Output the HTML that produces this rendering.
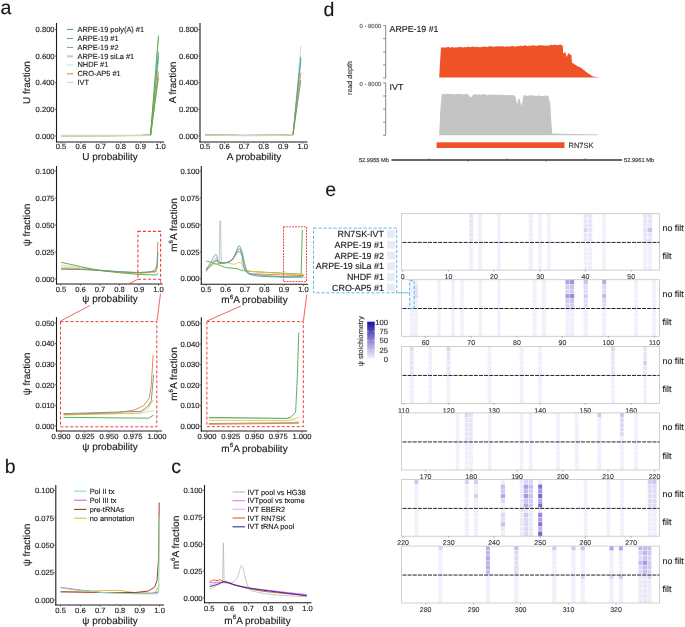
<!DOCTYPE html>
<html><head><meta charset="utf-8"><style>
html,body{margin:0;padding:0;background:#fff;}
body{width:685px;height:627px;overflow:hidden;}
svg{display:block;font-family:"Liberation Sans", sans-serif;text-rendering:geometricPrecision;will-change:transform;}
</style></head><body>
<svg width="685" height="627" viewBox="0 0 685 627">
<rect width="685" height="627" fill="#fff"/>
<text x="0.50" y="13.60" font-size="19.5" text-anchor="start" fill="#1a1a1a" stroke="#1a1a1a" stroke-width="0.14">a</text>
<text x="4.80" y="472.80" font-size="19.5" text-anchor="start" fill="#1a1a1a" stroke="#1a1a1a" stroke-width="0.14">b</text>
<text x="171.30" y="473.20" font-size="19.5" text-anchor="start" fill="#1a1a1a" stroke="#1a1a1a" stroke-width="0.14">c</text>
<text x="323.50" y="15.70" font-size="19.5" text-anchor="start" fill="#1a1a1a" stroke="#1a1a1a" stroke-width="0.14">d</text>
<text x="325.30" y="195.80" font-size="19.5" text-anchor="start" fill="#1a1a1a" stroke="#1a1a1a" stroke-width="0.14">e</text>
<line x1="56.50" y1="23.00" x2="56.50" y2="142.50" stroke="#1a1a1a" stroke-width="1.1"/>
<line x1="56.00" y1="142.00" x2="164.00" y2="142.00" stroke="#1a1a1a" stroke-width="1.1"/>
<line x1="54.90" y1="29.50" x2="56.50" y2="29.50" stroke="#555" stroke-width="0.9"/>
<text x="54.60" y="32.24" font-size="7.6" text-anchor="end" fill="#1a1a1a" stroke="#1a1a1a" stroke-width="0.14">0.800</text>
<line x1="54.90" y1="56.12" x2="56.50" y2="56.12" stroke="#555" stroke-width="0.9"/>
<text x="54.60" y="58.86" font-size="7.6" text-anchor="end" fill="#1a1a1a" stroke="#1a1a1a" stroke-width="0.14">0.600</text>
<line x1="54.90" y1="82.75" x2="56.50" y2="82.75" stroke="#555" stroke-width="0.9"/>
<text x="54.60" y="85.49" font-size="7.6" text-anchor="end" fill="#1a1a1a" stroke="#1a1a1a" stroke-width="0.14">0.400</text>
<line x1="54.90" y1="109.38" x2="56.50" y2="109.38" stroke="#555" stroke-width="0.9"/>
<text x="54.60" y="112.11" font-size="7.6" text-anchor="end" fill="#1a1a1a" stroke="#1a1a1a" stroke-width="0.14">0.200</text>
<line x1="54.90" y1="136.00" x2="56.50" y2="136.00" stroke="#555" stroke-width="0.9"/>
<text x="54.60" y="138.74" font-size="7.6" text-anchor="end" fill="#1a1a1a" stroke="#1a1a1a" stroke-width="0.14">0.000</text>
<line x1="61.00" y1="142.00" x2="61.00" y2="143.60" stroke="#555" stroke-width="0.9"/>
<text x="61.00" y="149.24" font-size="7.6" text-anchor="middle" fill="#1a1a1a" stroke="#1a1a1a" stroke-width="0.14">0.5</text>
<line x1="80.90" y1="142.00" x2="80.90" y2="143.60" stroke="#555" stroke-width="0.9"/>
<text x="80.90" y="149.24" font-size="7.6" text-anchor="middle" fill="#1a1a1a" stroke="#1a1a1a" stroke-width="0.14">0.6</text>
<line x1="100.80" y1="142.00" x2="100.80" y2="143.60" stroke="#555" stroke-width="0.9"/>
<text x="100.80" y="149.24" font-size="7.6" text-anchor="middle" fill="#1a1a1a" stroke="#1a1a1a" stroke-width="0.14">0.7</text>
<line x1="120.70" y1="142.00" x2="120.70" y2="143.60" stroke="#555" stroke-width="0.9"/>
<text x="120.70" y="149.24" font-size="7.6" text-anchor="middle" fill="#1a1a1a" stroke="#1a1a1a" stroke-width="0.14">0.8</text>
<line x1="140.60" y1="142.00" x2="140.60" y2="143.60" stroke="#555" stroke-width="0.9"/>
<text x="140.60" y="149.24" font-size="7.6" text-anchor="middle" fill="#1a1a1a" stroke="#1a1a1a" stroke-width="0.14">0.9</text>
<line x1="160.50" y1="142.00" x2="160.50" y2="143.60" stroke="#555" stroke-width="0.9"/>
<text x="160.50" y="149.24" font-size="7.6" text-anchor="middle" fill="#1a1a1a" stroke="#1a1a1a" stroke-width="0.14">1.0</text>
<text x="110.00" y="160.10" font-size="10" text-anchor="middle" fill="#1a1a1a" stroke="#1a1a1a" stroke-width="0.14">U probability</text>
<text x="26.50" y="86.10" font-size="10" text-anchor="middle" fill="#1a1a1a" transform="rotate(-90 26.50 82.50)" stroke="#1a1a1a" stroke-width="0.14">U fraction</text>
<polyline points="61.00,135.60 100.80,135.60 140.60,135.47 150.55,135.20 158.51,74.76" fill="none" stroke="#cfcfcf" stroke-width="0.85" stroke-linejoin="round" stroke-opacity="1.0"/>
<polyline points="61.00,135.60 100.80,135.60 140.60,135.47 150.55,135.20 158.51,53.46" fill="none" stroke="#a6eeee" stroke-width="0.85" stroke-linejoin="round" stroke-opacity="1.0"/>
<polyline points="61.00,135.60 100.80,135.60 140.60,135.47 150.55,135.20 158.51,60.12" fill="none" stroke="#a9d2d0" stroke-width="0.85" stroke-linejoin="round" stroke-opacity="1.0"/>
<polyline points="61.00,135.60 100.80,135.60 140.60,135.47 150.55,135.20 158.51,56.12" fill="none" stroke="#62aea6" stroke-width="0.85" stroke-linejoin="round" stroke-opacity="1.0"/>
<polyline points="61.00,135.60 100.80,135.60 140.60,135.47 150.55,135.20 158.51,52.13" fill="none" stroke="#4f9f98" stroke-width="0.85" stroke-linejoin="round" stroke-opacity="1.0"/>
<polyline points="61.00,135.60 100.80,135.60 140.60,135.47 150.55,135.20 158.51,71.43" fill="none" stroke="#ee7b36" stroke-width="0.85" stroke-linejoin="round" stroke-opacity="1.0"/>
<polyline points="61.00,135.60 100.80,135.60 140.60,135.47 150.55,135.20 158.51,77.43" fill="none" stroke="#4aa84a" stroke-width="0.85" stroke-linejoin="round" stroke-opacity="1.0"/>
<polyline points="61.00,135.60 100.80,135.60 140.60,135.47 150.55,135.20 158.51,36.82" fill="none" stroke="#a8c040" stroke-width="0.85" stroke-linejoin="round" stroke-opacity="1.0"/>
<polyline points="61.00,135.60 100.80,135.60 140.60,135.47 150.55,135.20 158.51,35.49" fill="none" stroke="#4aa84a" stroke-width="0.85" stroke-linejoin="round" stroke-opacity="1.0"/>
<polyline points="61.00,135.60 100.80,135.60 140.60,135.47 150.55,135.20" fill="none" stroke="#d6d6c2" stroke-width="1.6" stroke-linejoin="round" stroke-opacity="1.0"/>
<line x1="67.00" y1="29.45" x2="73.20" y2="29.45" stroke="#4aa84a" stroke-width="1.0"/>
<text x="77.50" y="31.66" font-size="7.4" text-anchor="start" fill="#1a1a1a" stroke="#1a1a1a" stroke-width="0.14">ARPE-19 poly(A) #1</text>
<line x1="67.00" y1="38.45" x2="73.20" y2="38.45" stroke="#4f9f98" stroke-width="1.0"/>
<text x="77.50" y="40.66" font-size="7.4" text-anchor="start" fill="#1a1a1a" stroke="#1a1a1a" stroke-width="0.14">ARPE-19 #1</text>
<line x1="67.00" y1="47.45" x2="73.20" y2="47.45" stroke="#62aea6" stroke-width="1.0"/>
<text x="77.50" y="49.66" font-size="7.4" text-anchor="start" fill="#1a1a1a" stroke="#1a1a1a" stroke-width="0.14">ARPE-19 #2</text>
<line x1="67.00" y1="56.35" x2="73.20" y2="56.35" stroke="#a9d2d0" stroke-width="2.0"/>
<text x="77.50" y="58.56" font-size="7.4" text-anchor="start" fill="#1a1a1a" stroke="#1a1a1a" stroke-width="0.14">ARPE-19 siLa #1</text>
<line x1="67.00" y1="65.05" x2="73.20" y2="65.05" stroke="#a6eeee" stroke-width="1.0"/>
<text x="77.50" y="67.26" font-size="7.4" text-anchor="start" fill="#1a1a1a" stroke="#1a1a1a" stroke-width="0.14">NHDF #1</text>
<line x1="67.00" y1="73.85" x2="73.20" y2="73.85" stroke="#ee7b36" stroke-width="1.0"/>
<text x="77.50" y="76.06" font-size="7.4" text-anchor="start" fill="#1a1a1a" stroke="#1a1a1a" stroke-width="0.14">CRO-AP5 #1</text>
<line x1="67.00" y1="82.35" x2="73.20" y2="82.35" stroke="#cfcfcf" stroke-width="1.0"/>
<text x="77.50" y="84.56" font-size="7.4" text-anchor="start" fill="#1a1a1a" stroke="#1a1a1a" stroke-width="0.14">IVT</text>
<line x1="200.00" y1="23.00" x2="200.00" y2="142.50" stroke="#1a1a1a" stroke-width="1.1"/>
<line x1="199.50" y1="142.00" x2="307.50" y2="142.00" stroke="#1a1a1a" stroke-width="1.1"/>
<line x1="198.40" y1="29.50" x2="200.00" y2="29.50" stroke="#555" stroke-width="0.9"/>
<text x="198.10" y="32.24" font-size="7.6" text-anchor="end" fill="#1a1a1a" stroke="#1a1a1a" stroke-width="0.14">0.800</text>
<line x1="198.40" y1="56.12" x2="200.00" y2="56.12" stroke="#555" stroke-width="0.9"/>
<text x="198.10" y="58.86" font-size="7.6" text-anchor="end" fill="#1a1a1a" stroke="#1a1a1a" stroke-width="0.14">0.600</text>
<line x1="198.40" y1="82.75" x2="200.00" y2="82.75" stroke="#555" stroke-width="0.9"/>
<text x="198.10" y="85.49" font-size="7.6" text-anchor="end" fill="#1a1a1a" stroke="#1a1a1a" stroke-width="0.14">0.400</text>
<line x1="198.40" y1="109.38" x2="200.00" y2="109.38" stroke="#555" stroke-width="0.9"/>
<text x="198.10" y="112.11" font-size="7.6" text-anchor="end" fill="#1a1a1a" stroke="#1a1a1a" stroke-width="0.14">0.200</text>
<line x1="198.40" y1="136.00" x2="200.00" y2="136.00" stroke="#555" stroke-width="0.9"/>
<text x="198.10" y="138.74" font-size="7.6" text-anchor="end" fill="#1a1a1a" stroke="#1a1a1a" stroke-width="0.14">0.000</text>
<line x1="205.00" y1="142.00" x2="205.00" y2="143.60" stroke="#555" stroke-width="0.9"/>
<text x="205.00" y="149.24" font-size="7.6" text-anchor="middle" fill="#1a1a1a" stroke="#1a1a1a" stroke-width="0.14">0.5</text>
<line x1="224.56" y1="142.00" x2="224.56" y2="143.60" stroke="#555" stroke-width="0.9"/>
<text x="224.56" y="149.24" font-size="7.6" text-anchor="middle" fill="#1a1a1a" stroke="#1a1a1a" stroke-width="0.14">0.6</text>
<line x1="244.12" y1="142.00" x2="244.12" y2="143.60" stroke="#555" stroke-width="0.9"/>
<text x="244.12" y="149.24" font-size="7.6" text-anchor="middle" fill="#1a1a1a" stroke="#1a1a1a" stroke-width="0.14">0.7</text>
<line x1="263.68" y1="142.00" x2="263.68" y2="143.60" stroke="#555" stroke-width="0.9"/>
<text x="263.68" y="149.24" font-size="7.6" text-anchor="middle" fill="#1a1a1a" stroke="#1a1a1a" stroke-width="0.14">0.8</text>
<line x1="283.24" y1="142.00" x2="283.24" y2="143.60" stroke="#555" stroke-width="0.9"/>
<text x="283.24" y="149.24" font-size="7.6" text-anchor="middle" fill="#1a1a1a" stroke="#1a1a1a" stroke-width="0.14">0.9</text>
<line x1="302.80" y1="142.00" x2="302.80" y2="143.60" stroke="#555" stroke-width="0.9"/>
<text x="302.80" y="149.24" font-size="7.6" text-anchor="middle" fill="#1a1a1a" stroke="#1a1a1a" stroke-width="0.14">1.0</text>
<text x="254.00" y="160.10" font-size="10" text-anchor="middle" fill="#1a1a1a" stroke="#1a1a1a" stroke-width="0.14">A probability</text>
<text x="172.50" y="86.10" font-size="10" text-anchor="middle" fill="#1a1a1a" transform="rotate(-90 172.50 82.50)" stroke="#1a1a1a" stroke-width="0.14">A fraction</text>
<polyline points="205.00,134.94 244.12,135.47 283.24,135.20 293.02,134.67 300.84,46.14" fill="none" stroke="#cfcfcf" stroke-width="0.85" stroke-linejoin="round" stroke-opacity="1.0"/>
<polyline points="205.00,134.94 244.12,135.47 283.24,135.20 293.02,134.67 300.84,56.12" fill="none" stroke="#a6eeee" stroke-width="0.85" stroke-linejoin="round" stroke-opacity="1.0"/>
<polyline points="205.00,134.94 244.12,135.47 283.24,135.20 293.02,134.67 300.84,61.45" fill="none" stroke="#a9d2d0" stroke-width="0.85" stroke-linejoin="round" stroke-opacity="1.0"/>
<polyline points="205.00,134.94 244.12,135.47 283.24,135.20 293.02,134.67 300.84,58.79" fill="none" stroke="#62aea6" stroke-width="0.85" stroke-linejoin="round" stroke-opacity="1.0"/>
<polyline points="205.00,134.94 244.12,135.47 283.24,135.20 293.02,134.67 300.84,56.79" fill="none" stroke="#4f9f98" stroke-width="0.85" stroke-linejoin="round" stroke-opacity="1.0"/>
<polyline points="205.00,134.94 244.12,135.47 283.24,135.20 293.02,134.67 300.84,72.77" fill="none" stroke="#ee7b36" stroke-width="0.85" stroke-linejoin="round" stroke-opacity="1.0"/>
<polyline points="205.00,134.94 244.12,135.47 283.24,135.20 293.02,134.67 300.84,80.09" fill="none" stroke="#4aa84a" stroke-width="0.85" stroke-linejoin="round" stroke-opacity="1.0"/>
<polyline points="205.00,134.94 244.12,135.47 283.24,135.20 293.02,134.67" fill="none" stroke="#d2d6c4" stroke-width="1.6" stroke-linejoin="round" stroke-opacity="1.0"/>
<line x1="56.50" y1="166.00" x2="56.50" y2="284.50" stroke="#1a1a1a" stroke-width="1.1"/>
<line x1="56.00" y1="284.00" x2="162.60" y2="284.00" stroke="#1a1a1a" stroke-width="1.1"/>
<line x1="54.90" y1="171.00" x2="56.50" y2="171.00" stroke="#555" stroke-width="0.9"/>
<text x="54.60" y="173.74" font-size="7.6" text-anchor="end" fill="#1a1a1a" stroke="#1a1a1a" stroke-width="0.14">0.100</text>
<line x1="54.90" y1="198.00" x2="56.50" y2="198.00" stroke="#555" stroke-width="0.9"/>
<text x="54.60" y="200.74" font-size="7.6" text-anchor="end" fill="#1a1a1a" stroke="#1a1a1a" stroke-width="0.14">0.075</text>
<line x1="54.90" y1="225.00" x2="56.50" y2="225.00" stroke="#555" stroke-width="0.9"/>
<text x="54.60" y="227.74" font-size="7.6" text-anchor="end" fill="#1a1a1a" stroke="#1a1a1a" stroke-width="0.14">0.050</text>
<line x1="54.90" y1="252.00" x2="56.50" y2="252.00" stroke="#555" stroke-width="0.9"/>
<text x="54.60" y="254.74" font-size="7.6" text-anchor="end" fill="#1a1a1a" stroke="#1a1a1a" stroke-width="0.14">0.025</text>
<line x1="54.90" y1="279.00" x2="56.50" y2="279.00" stroke="#555" stroke-width="0.9"/>
<text x="54.60" y="281.74" font-size="7.6" text-anchor="end" fill="#1a1a1a" stroke="#1a1a1a" stroke-width="0.14">0.000</text>
<line x1="61.00" y1="284.00" x2="61.00" y2="285.60" stroke="#555" stroke-width="0.9"/>
<text x="61.00" y="291.74" font-size="7.6" text-anchor="middle" fill="#1a1a1a" stroke="#1a1a1a" stroke-width="0.14">0.5</text>
<line x1="80.50" y1="284.00" x2="80.50" y2="285.60" stroke="#555" stroke-width="0.9"/>
<text x="80.50" y="291.74" font-size="7.6" text-anchor="middle" fill="#1a1a1a" stroke="#1a1a1a" stroke-width="0.14">0.6</text>
<line x1="100.00" y1="284.00" x2="100.00" y2="285.60" stroke="#555" stroke-width="0.9"/>
<text x="100.00" y="291.74" font-size="7.6" text-anchor="middle" fill="#1a1a1a" stroke="#1a1a1a" stroke-width="0.14">0.7</text>
<line x1="119.50" y1="284.00" x2="119.50" y2="285.60" stroke="#555" stroke-width="0.9"/>
<text x="119.50" y="291.74" font-size="7.6" text-anchor="middle" fill="#1a1a1a" stroke="#1a1a1a" stroke-width="0.14">0.8</text>
<line x1="139.00" y1="284.00" x2="139.00" y2="285.60" stroke="#555" stroke-width="0.9"/>
<text x="139.00" y="291.74" font-size="7.6" text-anchor="middle" fill="#1a1a1a" stroke="#1a1a1a" stroke-width="0.14">0.9</text>
<line x1="158.50" y1="284.00" x2="158.50" y2="285.60" stroke="#555" stroke-width="0.9"/>
<text x="158.50" y="291.74" font-size="7.6" text-anchor="middle" fill="#1a1a1a" stroke="#1a1a1a" stroke-width="0.14">1.0</text>
<text x="110.00" y="302.10" font-size="10" text-anchor="middle" fill="#1a1a1a" stroke="#1a1a1a" stroke-width="0.14">ψ probability</text>
<text x="26.50" y="228.60" font-size="10" text-anchor="middle" fill="#1a1a1a" transform="rotate(-90 26.50 225.00)" stroke="#1a1a1a" stroke-width="0.14">ψ fraction</text>
<polyline points="61.00,264.96 80.50,267.66 100.00,270.14 119.50,271.66 139.53,272.95 154.99,272.41 157.82,270.90" fill="none" stroke="#cfcfcf" stroke-width="0.9" stroke-linejoin="round" stroke-opacity="1.0"/>
<polyline points="61.00,267.12 80.50,268.74 100.00,270.36 119.50,272.09 139.53,273.28 154.99,272.20 156.55,270.04 157.72,265.39" fill="none" stroke="#f0c23a" stroke-width="0.9" stroke-linejoin="round" stroke-opacity="1.0"/>
<polyline points="61.00,262.26 80.50,266.58 100.00,270.58 119.50,272.74 139.53,274.46 156.80,274.90 157.80,273.28" fill="none" stroke="#4aa84a" stroke-width="0.9" stroke-linejoin="round" stroke-opacity="1.0"/>
<polyline points="61.00,268.74 80.50,269.06 100.00,270.36 119.50,271.87 139.53,272.95 150.31,272.09 154.01,270.58 155.87,268.20 156.94,264.20 157.33,257.72 157.72,241.85" fill="none" stroke="#ee7b36" stroke-width="0.9" stroke-linejoin="round" stroke-opacity="1.0"/>
<polyline points="61.00,269.28 80.50,269.50 100.00,270.36 119.50,271.66 139.53,272.52 155.24,271.33 156.80,268.20 157.33,265.72 157.82,252.22" fill="none" stroke="#4f9f98" stroke-width="0.9" stroke-linejoin="round" stroke-opacity="1.0"/>
<rect x="137.90" y="231.40" width="22.70" height="47.80" fill="none" stroke="#f23b3b" stroke-width="1.1" stroke-dasharray="3.0,2.0"/>
<line x1="201.30" y1="166.00" x2="201.30" y2="284.80" stroke="#1a1a1a" stroke-width="1.1"/>
<line x1="200.80" y1="284.30" x2="308.00" y2="284.30" stroke="#1a1a1a" stroke-width="1.1"/>
<line x1="199.70" y1="171.10" x2="201.30" y2="171.10" stroke="#555" stroke-width="0.9"/>
<text x="199.40" y="173.84" font-size="7.6" text-anchor="end" fill="#1a1a1a" stroke="#1a1a1a" stroke-width="0.14">0.100</text>
<line x1="199.70" y1="198.00" x2="201.30" y2="198.00" stroke="#555" stroke-width="0.9"/>
<text x="199.40" y="200.74" font-size="7.6" text-anchor="end" fill="#1a1a1a" stroke="#1a1a1a" stroke-width="0.14">0.075</text>
<line x1="199.70" y1="224.90" x2="201.30" y2="224.90" stroke="#555" stroke-width="0.9"/>
<text x="199.40" y="227.64" font-size="7.6" text-anchor="end" fill="#1a1a1a" stroke="#1a1a1a" stroke-width="0.14">0.050</text>
<line x1="199.70" y1="251.80" x2="201.30" y2="251.80" stroke="#555" stroke-width="0.9"/>
<text x="199.40" y="254.54" font-size="7.6" text-anchor="end" fill="#1a1a1a" stroke="#1a1a1a" stroke-width="0.14">0.025</text>
<line x1="199.70" y1="278.70" x2="201.30" y2="278.70" stroke="#555" stroke-width="0.9"/>
<text x="199.40" y="281.44" font-size="7.6" text-anchor="end" fill="#1a1a1a" stroke="#1a1a1a" stroke-width="0.14">0.000</text>
<line x1="206.10" y1="284.30" x2="206.10" y2="285.90" stroke="#555" stroke-width="0.9"/>
<text x="206.10" y="291.74" font-size="7.6" text-anchor="middle" fill="#1a1a1a" stroke="#1a1a1a" stroke-width="0.14">0.5</text>
<line x1="225.58" y1="284.30" x2="225.58" y2="285.90" stroke="#555" stroke-width="0.9"/>
<text x="225.58" y="291.74" font-size="7.6" text-anchor="middle" fill="#1a1a1a" stroke="#1a1a1a" stroke-width="0.14">0.6</text>
<line x1="245.06" y1="284.30" x2="245.06" y2="285.90" stroke="#555" stroke-width="0.9"/>
<text x="245.06" y="291.74" font-size="7.6" text-anchor="middle" fill="#1a1a1a" stroke="#1a1a1a" stroke-width="0.14">0.7</text>
<line x1="264.54" y1="284.30" x2="264.54" y2="285.90" stroke="#555" stroke-width="0.9"/>
<text x="264.54" y="291.74" font-size="7.6" text-anchor="middle" fill="#1a1a1a" stroke="#1a1a1a" stroke-width="0.14">0.8</text>
<line x1="284.02" y1="284.30" x2="284.02" y2="285.90" stroke="#555" stroke-width="0.9"/>
<text x="284.02" y="291.74" font-size="7.6" text-anchor="middle" fill="#1a1a1a" stroke="#1a1a1a" stroke-width="0.14">0.9</text>
<line x1="303.50" y1="284.30" x2="303.50" y2="285.90" stroke="#555" stroke-width="0.9"/>
<text x="303.50" y="291.74" font-size="7.6" text-anchor="middle" fill="#1a1a1a" stroke="#1a1a1a" stroke-width="0.14">1.0</text>
<text x="254.50" y="303.10" font-size="10" text-anchor="middle" fill="#1a1a1a" stroke="#1a1a1a" stroke-width="0.14">m<tspan font-size="6.20" dy="-4.20">6</tspan><tspan dy="4.20">A probability</tspan></text>
<text x="173.40" y="228.60" font-size="10" text-anchor="middle" fill="#1a1a1a" stroke="#1a1a1a" stroke-width="0.14" transform="rotate(-90 173.40 225.00)">m<tspan font-size="6.20" dy="-4.20">6</tspan><tspan dy="4.20">A fraction</tspan></text>
<path d="M206.00,261.00 C207.50,261.42 211.72,262.43 215.00,263.50 C218.28,264.57 222.58,266.60 225.70,267.40 C228.82,268.20 231.65,268.03 233.70,268.30 C235.75,268.57 236.38,268.60 238.00,269.00 C239.62,269.40 239.73,270.20 243.40,270.70 C247.07,271.20 253.90,271.62 260.00,272.00 C266.10,272.38 273.13,272.63 280.00,273.00 C286.87,273.37 297.67,274.00 301.20,274.20" fill="none" stroke="#4aa84a" stroke-width="0.9" stroke-linejoin="round" stroke-opacity="1.0"/>
<polyline points="301.20,274.20 302.30,229.70" fill="none" stroke="#4aa84a" stroke-width="0.9" stroke-linejoin="round" stroke-opacity="1.0"/>
<path d="M206.00,270.70 C206.83,269.92 209.33,267.08 211.00,266.00 C212.67,264.92 213.67,264.77 216.00,264.20 C218.33,263.63 222.00,262.60 225.00,262.60 C228.00,262.60 231.67,264.25 234.00,264.20 C236.33,264.15 237.50,262.17 239.00,262.30 C240.50,262.43 241.50,263.60 243.00,265.00 C244.50,266.40 245.17,269.53 248.00,270.70 C250.83,271.87 251.33,271.33 260.00,272.00 C268.67,272.67 292.92,274.37 300.00,274.70 C307.08,275.03 302.08,274.12 302.50,274.00" fill="none" stroke="#f0c23a" stroke-width="0.9" stroke-linejoin="round" stroke-opacity="1.0"/>
<path d="M206.00,270.00 C206.83,269.00 209.33,266.00 211.00,264.00 C212.67,262.00 214.58,258.33 216.00,258.00 C217.42,257.67 217.88,261.23 219.50,262.00 C221.12,262.77 223.62,262.93 225.70,262.60 C227.78,262.27 229.80,262.60 232.00,260.00 C234.20,257.40 237.23,248.17 238.90,247.00 C240.57,245.83 240.48,248.67 242.00,253.00 C243.52,257.33 238.33,268.92 248.00,273.00 C257.67,277.08 290.92,276.83 300.00,277.50 C309.08,278.17 302.08,277.08 302.50,277.00" fill="none" stroke="#cfcfcf" stroke-width="0.9" stroke-linejoin="round" stroke-opacity="1.0"/>
<path d="M206.00,271.50 C206.83,270.42 209.33,266.75 211.00,265.00 C212.67,263.25 214.50,261.40 216.00,261.00 C217.50,260.60 218.38,262.33 220.00,262.60 C221.62,262.87 223.70,263.00 225.70,262.60 C227.70,262.20 230.45,261.30 232.00,260.20 C233.55,259.10 233.83,257.47 235.00,256.00 C236.17,254.53 237.67,251.07 239.00,251.40 C240.33,251.73 241.50,254.52 243.00,258.00 C244.50,261.48 245.17,269.63 248.00,272.30 C250.83,274.97 251.33,273.47 260.00,274.00 C268.67,274.53 292.92,275.33 300.00,275.50 C307.08,275.67 302.08,275.08 302.50,275.00" fill="none" stroke="#ee7b36" stroke-width="0.9" stroke-linejoin="round" stroke-opacity="1.0"/>
<path d="M206.00,269.00 C206.83,267.83 209.33,264.45 211.00,262.00 C212.67,259.55 214.75,254.07 216.00,254.30 C217.25,254.53 217.50,262.02 218.50,263.40 C219.50,264.78 220.80,262.73 222.00,262.60 C223.20,262.47 224.53,262.78 225.70,262.60 C226.87,262.42 227.95,262.03 229.00,261.50 C230.05,260.97 231.00,260.48 232.00,259.40 C233.00,258.32 233.85,257.27 235.00,255.00 C236.15,252.73 237.73,246.30 238.90,245.80 C240.07,245.30 240.98,248.80 242.00,252.00 C243.02,255.20 243.97,261.50 245.00,265.00 C246.03,268.50 245.70,271.33 248.20,273.00 C250.70,274.67 254.70,274.42 260.00,275.00 C265.30,275.58 273.33,276.17 280.00,276.50 C286.67,276.83 296.25,277.08 300.00,277.00 C303.75,276.92 302.08,276.17 302.50,276.00" fill="none" stroke="#62aea6" stroke-width="0.9" stroke-linejoin="round" stroke-opacity="1.0"/>
<path d="M206.00,270.00 C206.83,269.17 209.33,266.67 211.00,265.00 C212.67,263.33 214.50,260.33 216.00,260.00 C217.50,259.67 218.38,262.50 220.00,263.00 C221.62,263.50 223.70,263.50 225.70,263.00 C227.70,262.50 229.80,262.33 232.00,260.00 C234.20,257.67 237.23,249.83 238.90,249.00 C240.57,248.17 240.45,250.92 242.00,255.00 C243.55,259.08 241.87,269.83 248.20,273.50 C254.53,277.17 270.95,276.50 280.00,277.00 C289.05,277.50 298.75,276.58 302.50,276.50" fill="none" stroke="#4f9f98" stroke-width="0.9" stroke-linejoin="round" stroke-opacity="1.0"/>
<polyline points="219.30,262.00 219.90,221.00 220.60,221.00 221.20,262.00" fill="none" stroke="#a9bcbc" stroke-width="0.8" stroke-linejoin="round" stroke-opacity="1.0"/>
<rect x="283.50" y="226.80" width="23.00" height="54.80" fill="none" stroke="#f23b3b" stroke-width="1" stroke-dasharray="1.8,1.1"/>
<line x1="56.50" y1="317.20" x2="56.50" y2="431.50" stroke="#1a1a1a" stroke-width="1.1"/>
<line x1="56.00" y1="431.00" x2="162.00" y2="431.00" stroke="#1a1a1a" stroke-width="1.1"/>
<line x1="54.90" y1="323.00" x2="56.50" y2="323.00" stroke="#555" stroke-width="0.9"/>
<text x="54.60" y="325.74" font-size="7.6" text-anchor="end" fill="#1a1a1a" stroke="#1a1a1a" stroke-width="0.14">0.050</text>
<line x1="54.90" y1="343.60" x2="56.50" y2="343.60" stroke="#555" stroke-width="0.9"/>
<text x="54.60" y="346.34" font-size="7.6" text-anchor="end" fill="#1a1a1a" stroke="#1a1a1a" stroke-width="0.14">0.040</text>
<line x1="54.90" y1="364.20" x2="56.50" y2="364.20" stroke="#555" stroke-width="0.9"/>
<text x="54.60" y="366.94" font-size="7.6" text-anchor="end" fill="#1a1a1a" stroke="#1a1a1a" stroke-width="0.14">0.030</text>
<line x1="54.90" y1="384.80" x2="56.50" y2="384.80" stroke="#555" stroke-width="0.9"/>
<text x="54.60" y="387.54" font-size="7.6" text-anchor="end" fill="#1a1a1a" stroke="#1a1a1a" stroke-width="0.14">0.020</text>
<line x1="54.90" y1="405.40" x2="56.50" y2="405.40" stroke="#555" stroke-width="0.9"/>
<text x="54.60" y="408.14" font-size="7.6" text-anchor="end" fill="#1a1a1a" stroke="#1a1a1a" stroke-width="0.14">0.010</text>
<line x1="54.90" y1="426.00" x2="56.50" y2="426.00" stroke="#555" stroke-width="0.9"/>
<text x="54.60" y="428.74" font-size="7.6" text-anchor="end" fill="#1a1a1a" stroke="#1a1a1a" stroke-width="0.14">0.000</text>
<line x1="61.00" y1="431.00" x2="61.00" y2="432.60" stroke="#555" stroke-width="0.9"/>
<text x="61.00" y="438.94" font-size="7.6" text-anchor="middle" fill="#1a1a1a" stroke="#1a1a1a" stroke-width="0.14">0.900</text>
<line x1="85.00" y1="431.00" x2="85.00" y2="432.60" stroke="#555" stroke-width="0.9"/>
<text x="85.00" y="438.94" font-size="7.6" text-anchor="middle" fill="#1a1a1a" stroke="#1a1a1a" stroke-width="0.14">0.925</text>
<line x1="109.00" y1="431.00" x2="109.00" y2="432.60" stroke="#555" stroke-width="0.9"/>
<text x="109.00" y="438.94" font-size="7.6" text-anchor="middle" fill="#1a1a1a" stroke="#1a1a1a" stroke-width="0.14">0.950</text>
<line x1="133.00" y1="431.00" x2="133.00" y2="432.60" stroke="#555" stroke-width="0.9"/>
<text x="133.00" y="438.94" font-size="7.6" text-anchor="middle" fill="#1a1a1a" stroke="#1a1a1a" stroke-width="0.14">0.975</text>
<line x1="157.00" y1="431.00" x2="157.00" y2="432.60" stroke="#555" stroke-width="0.9"/>
<text x="157.00" y="438.94" font-size="7.6" text-anchor="middle" fill="#1a1a1a" stroke="#1a1a1a" stroke-width="0.14">1.000</text>
<text x="110.00" y="449.80" font-size="10" text-anchor="middle" fill="#1a1a1a" stroke="#1a1a1a" stroke-width="0.14">ψ probability</text>
<text x="26.50" y="377.60" font-size="10" text-anchor="middle" fill="#1a1a1a" transform="rotate(-90 26.50 374.00)" stroke="#1a1a1a" stroke-width="0.14">ψ fraction</text>
<polyline points="63.59,414.46 139.72,413.43 153.64,410.55" fill="none" stroke="#cfcfcf" stroke-width="0.9" stroke-linejoin="round" stroke-opacity="1.0"/>
<polyline points="63.59,415.08 139.72,413.02 147.40,408.90 153.16,400.04" fill="none" stroke="#f0c23a" stroke-width="0.9" stroke-linejoin="round" stroke-opacity="1.0"/>
<polyline points="63.59,417.35 148.65,418.17 153.54,415.08" fill="none" stroke="#4aa84a" stroke-width="0.9" stroke-linejoin="round" stroke-opacity="1.0"/>
<polyline points="63.59,414.46 116.68,412.82 134.92,409.93 144.04,405.40 149.32,397.78 151.24,385.42 153.16,355.14" fill="none" stroke="#ee7b36" stroke-width="0.9" stroke-linejoin="round" stroke-opacity="1.0"/>
<polyline points="63.59,413.64 140.97,411.37 148.65,405.40 151.24,400.66 153.64,374.91" fill="none" stroke="#4f9f98" stroke-width="0.9" stroke-linejoin="round" stroke-opacity="1.0"/>
<rect x="60.50" y="321.60" width="96.30" height="105.20" fill="none" stroke="#f23b3b" stroke-width="1" stroke-dasharray="3.0,2.0"/>
<line x1="201.30" y1="317.20" x2="201.30" y2="431.50" stroke="#1a1a1a" stroke-width="1.1"/>
<line x1="200.80" y1="431.00" x2="307.00" y2="431.00" stroke="#1a1a1a" stroke-width="1.1"/>
<line x1="199.70" y1="323.45" x2="201.30" y2="323.45" stroke="#555" stroke-width="0.9"/>
<text x="199.40" y="326.19" font-size="7.6" text-anchor="end" fill="#1a1a1a" stroke="#1a1a1a" stroke-width="0.14">0.050</text>
<line x1="199.70" y1="344.00" x2="201.30" y2="344.00" stroke="#555" stroke-width="0.9"/>
<text x="199.40" y="346.74" font-size="7.6" text-anchor="end" fill="#1a1a1a" stroke="#1a1a1a" stroke-width="0.14">0.040</text>
<line x1="199.70" y1="364.55" x2="201.30" y2="364.55" stroke="#555" stroke-width="0.9"/>
<text x="199.40" y="367.29" font-size="7.6" text-anchor="end" fill="#1a1a1a" stroke="#1a1a1a" stroke-width="0.14">0.030</text>
<line x1="199.70" y1="385.10" x2="201.30" y2="385.10" stroke="#555" stroke-width="0.9"/>
<text x="199.40" y="387.84" font-size="7.6" text-anchor="end" fill="#1a1a1a" stroke="#1a1a1a" stroke-width="0.14">0.020</text>
<line x1="199.70" y1="405.65" x2="201.30" y2="405.65" stroke="#555" stroke-width="0.9"/>
<text x="199.40" y="408.39" font-size="7.6" text-anchor="end" fill="#1a1a1a" stroke="#1a1a1a" stroke-width="0.14">0.010</text>
<line x1="199.70" y1="426.20" x2="201.30" y2="426.20" stroke="#555" stroke-width="0.9"/>
<text x="199.40" y="428.94" font-size="7.6" text-anchor="end" fill="#1a1a1a" stroke="#1a1a1a" stroke-width="0.14">0.000</text>
<line x1="207.00" y1="431.00" x2="207.00" y2="432.60" stroke="#555" stroke-width="0.9"/>
<text x="207.00" y="438.94" font-size="7.6" text-anchor="middle" fill="#1a1a1a" stroke="#1a1a1a" stroke-width="0.14">0.900</text>
<line x1="230.75" y1="431.00" x2="230.75" y2="432.60" stroke="#555" stroke-width="0.9"/>
<text x="230.75" y="438.94" font-size="7.6" text-anchor="middle" fill="#1a1a1a" stroke="#1a1a1a" stroke-width="0.14">0.925</text>
<line x1="254.50" y1="431.00" x2="254.50" y2="432.60" stroke="#555" stroke-width="0.9"/>
<text x="254.50" y="438.94" font-size="7.6" text-anchor="middle" fill="#1a1a1a" stroke="#1a1a1a" stroke-width="0.14">0.950</text>
<line x1="278.25" y1="431.00" x2="278.25" y2="432.60" stroke="#555" stroke-width="0.9"/>
<text x="278.25" y="438.94" font-size="7.6" text-anchor="middle" fill="#1a1a1a" stroke="#1a1a1a" stroke-width="0.14">0.975</text>
<line x1="302.00" y1="431.00" x2="302.00" y2="432.60" stroke="#555" stroke-width="0.9"/>
<text x="302.00" y="438.94" font-size="7.6" text-anchor="middle" fill="#1a1a1a" stroke="#1a1a1a" stroke-width="0.14">1.000</text>
<text x="254.50" y="451.60" font-size="10" text-anchor="middle" fill="#1a1a1a" stroke="#1a1a1a" stroke-width="0.14">m<tspan font-size="6.20" dy="-4.20">6</tspan><tspan dy="4.20">A probability</tspan></text>
<text x="173.30" y="377.60" font-size="10" text-anchor="middle" fill="#1a1a1a" stroke="#1a1a1a" stroke-width="0.14" transform="rotate(-90 173.30 374.00)">m<tspan font-size="6.20" dy="-4.20">6</tspan><tspan dy="4.20">A fraction</tspan></text>
<polyline points="208.80,423.50 298.80,422.70" fill="none" stroke="#4f9f98" stroke-width="0.9" stroke-linejoin="round" stroke-opacity="1.0"/>
<polyline points="208.80,424.30 298.80,423.20" fill="none" stroke="#ee7b36" stroke-width="0.9" stroke-linejoin="round" stroke-opacity="1.0"/>
<polyline points="208.80,418.20 290.00,418.50 298.80,421.90" fill="none" stroke="#cfcfcf" stroke-width="0.9" stroke-linejoin="round" stroke-opacity="1.0"/>
<polyline points="208.80,420.30 290.00,420.60 298.80,417.10" fill="none" stroke="#f0c23a" stroke-width="0.9" stroke-linejoin="round" stroke-opacity="1.0"/>
<polyline points="208.80,417.40 286.70,418.40 290.70,417.10 295.60,412.30 297.20,380.10 298.80,332.50" fill="none" stroke="#4aa84a" stroke-width="0.9" stroke-linejoin="round" stroke-opacity="1.0"/>
<rect x="206.90" y="321.60" width="96.40" height="105.10" fill="none" stroke="#f23b3b" stroke-width="1" stroke-dasharray="3.0,2.0"/>
<line x1="137.90" y1="279.30" x2="128.80" y2="283.80" stroke="#f23b3b" stroke-width="0.8"/>
<line x1="90.00" y1="305.50" x2="60.50" y2="321.00" stroke="#f23b3b" stroke-width="0.8"/>
<line x1="160.60" y1="279.20" x2="160.60" y2="284.00" stroke="#f23b3b" stroke-width="0.8"/>
<line x1="160.50" y1="293.70" x2="157.00" y2="321.00" stroke="#f23b3b" stroke-width="0.8"/>
<line x1="241.00" y1="306.00" x2="207.00" y2="321.00" stroke="#f23b3b" stroke-width="0.8"/>
<line x1="306.80" y1="294.30" x2="303.40" y2="321.00" stroke="#f23b3b" stroke-width="0.8"/>
<line x1="55.80" y1="485.00" x2="55.80" y2="605.50" stroke="#1a1a1a" stroke-width="1.1"/>
<line x1="55.30" y1="605.00" x2="164.00" y2="605.00" stroke="#1a1a1a" stroke-width="1.1"/>
<line x1="54.20" y1="490.50" x2="55.80" y2="490.50" stroke="#555" stroke-width="0.9"/>
<text x="53.90" y="493.24" font-size="7.6" text-anchor="end" fill="#1a1a1a" stroke="#1a1a1a" stroke-width="0.14">0.100</text>
<line x1="54.20" y1="517.88" x2="55.80" y2="517.88" stroke="#555" stroke-width="0.9"/>
<text x="53.90" y="520.61" font-size="7.6" text-anchor="end" fill="#1a1a1a" stroke="#1a1a1a" stroke-width="0.14">0.075</text>
<line x1="54.20" y1="545.25" x2="55.80" y2="545.25" stroke="#555" stroke-width="0.9"/>
<text x="53.90" y="547.99" font-size="7.6" text-anchor="end" fill="#1a1a1a" stroke="#1a1a1a" stroke-width="0.14">0.050</text>
<line x1="54.20" y1="572.62" x2="55.80" y2="572.62" stroke="#555" stroke-width="0.9"/>
<text x="53.90" y="575.36" font-size="7.6" text-anchor="end" fill="#1a1a1a" stroke="#1a1a1a" stroke-width="0.14">0.025</text>
<line x1="54.20" y1="600.00" x2="55.80" y2="600.00" stroke="#555" stroke-width="0.9"/>
<text x="53.90" y="602.74" font-size="7.6" text-anchor="end" fill="#1a1a1a" stroke="#1a1a1a" stroke-width="0.14">0.000</text>
<line x1="60.60" y1="605.00" x2="60.60" y2="606.60" stroke="#555" stroke-width="0.9"/>
<text x="60.60" y="612.94" font-size="7.6" text-anchor="middle" fill="#1a1a1a" stroke="#1a1a1a" stroke-width="0.14">0.5</text>
<line x1="80.40" y1="605.00" x2="80.40" y2="606.60" stroke="#555" stroke-width="0.9"/>
<text x="80.40" y="612.94" font-size="7.6" text-anchor="middle" fill="#1a1a1a" stroke="#1a1a1a" stroke-width="0.14">0.6</text>
<line x1="100.20" y1="605.00" x2="100.20" y2="606.60" stroke="#555" stroke-width="0.9"/>
<text x="100.20" y="612.94" font-size="7.6" text-anchor="middle" fill="#1a1a1a" stroke="#1a1a1a" stroke-width="0.14">0.7</text>
<line x1="120.00" y1="605.00" x2="120.00" y2="606.60" stroke="#555" stroke-width="0.9"/>
<text x="120.00" y="612.94" font-size="7.6" text-anchor="middle" fill="#1a1a1a" stroke="#1a1a1a" stroke-width="0.14">0.8</text>
<line x1="139.80" y1="605.00" x2="139.80" y2="606.60" stroke="#555" stroke-width="0.9"/>
<text x="139.80" y="612.94" font-size="7.6" text-anchor="middle" fill="#1a1a1a" stroke="#1a1a1a" stroke-width="0.14">0.9</text>
<line x1="159.60" y1="605.00" x2="159.60" y2="606.60" stroke="#555" stroke-width="0.9"/>
<text x="159.60" y="612.94" font-size="7.6" text-anchor="middle" fill="#1a1a1a" stroke="#1a1a1a" stroke-width="0.14">1.0</text>
<text x="110.00" y="623.60" font-size="10" text-anchor="middle" fill="#1a1a1a" stroke="#1a1a1a" stroke-width="0.14">ψ probability</text>
<text x="26.50" y="548.60" font-size="10" text-anchor="middle" fill="#1a1a1a" transform="rotate(-90 26.50 545.00)" stroke="#1a1a1a" stroke-width="0.14">ψ fraction</text>
<polyline points="60.60,591.60 90.00,591.00 119.20,590.30 135.00,592.70 155.00,593.00 159.40,584.70" fill="none" stroke="#e8b54a" stroke-width="1.0" stroke-linejoin="round" stroke-opacity="1.0"/>
<polyline points="60.60,587.40 80.00,590.00 103.20,592.70 130.00,593.00 151.40,593.50 158.60,591.90" fill="none" stroke="#c35ef5" stroke-width="1.0" stroke-linejoin="round" stroke-opacity="1.0"/>
<polyline points="60.60,591.90 100.00,592.50 135.30,592.50 148.10,591.10 154.60,587.10 157.00,580.70 158.60,558.20 159.20,502.50" fill="none" stroke="#a83a2c" stroke-width="1.0" stroke-linejoin="round" stroke-opacity="1.0"/>
<polyline points="60.60,587.90 80.00,590.50 103.00,592.50 135.30,593.80 157.80,593.80 158.60,590.00 159.00,570.00 159.20,517.50" fill="none" stroke="#7fe6a6" stroke-width="1.0" stroke-linejoin="round" stroke-opacity="1.0"/>
<line x1="74.10" y1="491.20" x2="86.50" y2="491.20" stroke="#7fe6a6" stroke-width="1.1"/>
<text x="89.70" y="493.86" font-size="7.4" text-anchor="start" fill="#1a1a1a" stroke="#1a1a1a" stroke-width="0.14">Pol II tx</text>
<line x1="74.10" y1="500.20" x2="86.50" y2="500.20" stroke="#c35ef5" stroke-width="1.1"/>
<text x="89.70" y="502.86" font-size="7.4" text-anchor="start" fill="#1a1a1a" stroke="#1a1a1a" stroke-width="0.14">Pol III tx</text>
<line x1="74.10" y1="509.40" x2="86.50" y2="509.40" stroke="#a83a2c" stroke-width="1.1"/>
<text x="89.70" y="512.06" font-size="7.4" text-anchor="start" fill="#1a1a1a" stroke="#1a1a1a" stroke-width="0.14">pre-tRNAs</text>
<line x1="74.10" y1="518.20" x2="86.50" y2="518.20" stroke="#e8b54a" stroke-width="1.1"/>
<text x="89.70" y="520.86" font-size="7.4" text-anchor="start" fill="#1a1a1a" stroke="#1a1a1a" stroke-width="0.14">no annotation</text>
<line x1="204.50" y1="485.00" x2="204.50" y2="603.30" stroke="#1a1a1a" stroke-width="1.1"/>
<line x1="204.00" y1="602.80" x2="311.50" y2="602.80" stroke="#1a1a1a" stroke-width="1.1"/>
<line x1="202.90" y1="490.50" x2="204.50" y2="490.50" stroke="#555" stroke-width="0.9"/>
<text x="202.60" y="493.24" font-size="7.6" text-anchor="end" fill="#1a1a1a" stroke="#1a1a1a" stroke-width="0.14">0.100</text>
<line x1="202.90" y1="517.38" x2="204.50" y2="517.38" stroke="#555" stroke-width="0.9"/>
<text x="202.60" y="520.11" font-size="7.6" text-anchor="end" fill="#1a1a1a" stroke="#1a1a1a" stroke-width="0.14">0.075</text>
<line x1="202.90" y1="544.25" x2="204.50" y2="544.25" stroke="#555" stroke-width="0.9"/>
<text x="202.60" y="546.99" font-size="7.6" text-anchor="end" fill="#1a1a1a" stroke="#1a1a1a" stroke-width="0.14">0.050</text>
<line x1="202.90" y1="571.12" x2="204.50" y2="571.12" stroke="#555" stroke-width="0.9"/>
<text x="202.60" y="573.86" font-size="7.6" text-anchor="end" fill="#1a1a1a" stroke="#1a1a1a" stroke-width="0.14">0.025</text>
<line x1="202.90" y1="598.00" x2="204.50" y2="598.00" stroke="#555" stroke-width="0.9"/>
<text x="202.60" y="600.74" font-size="7.6" text-anchor="end" fill="#1a1a1a" stroke="#1a1a1a" stroke-width="0.14">0.000</text>
<line x1="209.30" y1="602.80" x2="209.30" y2="604.40" stroke="#555" stroke-width="0.9"/>
<text x="209.30" y="611.04" font-size="7.6" text-anchor="middle" fill="#1a1a1a" stroke="#1a1a1a" stroke-width="0.14">0.5</text>
<line x1="228.94" y1="602.80" x2="228.94" y2="604.40" stroke="#555" stroke-width="0.9"/>
<text x="228.94" y="611.04" font-size="7.6" text-anchor="middle" fill="#1a1a1a" stroke="#1a1a1a" stroke-width="0.14">0.6</text>
<line x1="248.58" y1="602.80" x2="248.58" y2="604.40" stroke="#555" stroke-width="0.9"/>
<text x="248.58" y="611.04" font-size="7.6" text-anchor="middle" fill="#1a1a1a" stroke="#1a1a1a" stroke-width="0.14">0.7</text>
<line x1="268.22" y1="602.80" x2="268.22" y2="604.40" stroke="#555" stroke-width="0.9"/>
<text x="268.22" y="611.04" font-size="7.6" text-anchor="middle" fill="#1a1a1a" stroke="#1a1a1a" stroke-width="0.14">0.8</text>
<line x1="287.86" y1="602.80" x2="287.86" y2="604.40" stroke="#555" stroke-width="0.9"/>
<text x="287.86" y="611.04" font-size="7.6" text-anchor="middle" fill="#1a1a1a" stroke="#1a1a1a" stroke-width="0.14">0.9</text>
<line x1="307.50" y1="602.80" x2="307.50" y2="604.40" stroke="#555" stroke-width="0.9"/>
<text x="307.50" y="611.04" font-size="7.6" text-anchor="middle" fill="#1a1a1a" stroke="#1a1a1a" stroke-width="0.14">1.0</text>
<text x="257.50" y="623.60" font-size="10" text-anchor="middle" fill="#1a1a1a" stroke="#1a1a1a" stroke-width="0.14">m<tspan font-size="6.20" dy="-4.20">6</tspan><tspan dy="4.20">A probability</tspan></text>
<text x="175.50" y="546.10" font-size="10" text-anchor="middle" fill="#1a1a1a" stroke="#1a1a1a" stroke-width="0.14" transform="rotate(-90 175.50 542.50)">m<tspan font-size="6.20" dy="-4.20">6</tspan><tspan dy="4.20">A fraction</tspan></text>
<path d="M209.60,589.40 C210.80,588.73 214.65,586.47 216.80,585.40 C218.95,584.33 221.22,583.40 222.50,583.00 C223.78,582.60 222.77,583.13 224.50,583.00 C226.23,582.87 230.70,583.27 232.90,582.20 C235.10,581.13 236.23,579.42 237.70,576.60 C239.17,573.78 240.48,565.30 241.70,565.30 C242.92,565.30 243.78,572.72 245.00,576.60 C246.22,580.48 247.27,586.07 249.00,588.60 C250.73,591.13 250.85,590.73 255.40,591.80 C259.95,592.87 267.73,594.20 276.30,595.00 C284.87,595.80 301.72,596.33 306.80,596.60" fill="none" stroke="#b9b9b9" stroke-width="0.8" stroke-linejoin="round" stroke-opacity="1.0"/>
<polyline points="222.60,583.00 223.00,560.00 223.30,542.80 223.70,560.00 224.20,583.00" fill="none" stroke="#b9b9b9" stroke-width="0.8" stroke-linejoin="round" stroke-opacity="1.0"/>
<path d="M209.60,584.60 C212.15,584.17 220.48,581.93 224.90,582.00 C229.32,582.07 231.55,583.90 236.10,585.00 C240.65,586.10 245.50,587.52 252.20,588.60 C258.90,589.68 267.20,590.43 276.30,591.50 C285.40,592.57 301.72,594.42 306.80,595.00" fill="none" stroke="#d7bcd7" stroke-width="1.0" stroke-linejoin="round" stroke-opacity="1.0"/>
<path d="M209.60,582.50 C212.15,582.50 220.48,582.05 224.90,582.50 C229.32,582.95 231.55,584.23 236.10,585.20 C240.65,586.17 245.50,587.28 252.20,588.30 C258.90,589.32 267.20,590.25 276.30,591.30 C285.40,592.35 301.72,594.05 306.80,594.60" fill="none" stroke="#ff66ff" stroke-width="1.0" stroke-linejoin="round" stroke-opacity="1.0"/>
<path d="M209.60,581.70 C210.27,581.43 212.37,580.28 213.60,580.10 C214.83,579.92 216.05,580.60 217.00,580.60 C217.95,580.60 218.80,580.37 219.30,580.10 C219.80,579.83 219.72,578.92 220.00,579.00 C220.28,579.08 220.18,580.15 221.00,580.60 C221.82,581.05 222.38,580.90 224.90,581.70 C227.42,582.50 231.55,584.12 236.10,585.40 C240.65,586.68 246.85,588.33 252.20,589.40 C257.55,590.47 259.10,590.78 268.20,591.80 C277.30,592.82 300.37,594.88 306.80,595.50" fill="none" stroke="#d2691e" stroke-width="1.0" stroke-linejoin="round" stroke-opacity="1.0"/>
<path d="M209.60,586.50 C210.80,586.18 214.25,585.40 216.80,584.60 C219.35,583.80 221.68,581.57 224.90,581.70 C228.12,581.83 231.55,584.25 236.10,585.40 C240.65,586.55 245.50,587.53 252.20,588.60 C258.90,589.67 267.20,590.60 276.30,591.80 C285.40,593.00 301.72,595.13 306.80,595.80" fill="none" stroke="#2e2e9e" stroke-width="1.0" stroke-linejoin="round" stroke-opacity="1.0"/>
<line x1="232.50" y1="492.00" x2="245.00" y2="492.00" stroke="#b9b9b9" stroke-width="1.1"/>
<text x="247.50" y="494.66" font-size="7.4" text-anchor="start" fill="#1a1a1a" stroke="#1a1a1a" stroke-width="0.14">IVT pool vs HG38</text>
<line x1="232.50" y1="500.70" x2="245.00" y2="500.70" stroke="#ff66ff" stroke-width="1.1"/>
<text x="247.50" y="503.36" font-size="7.4" text-anchor="start" fill="#1a1a1a" stroke="#1a1a1a" stroke-width="0.14">IVTpool vs txome</text>
<line x1="232.50" y1="509.30" x2="245.00" y2="509.30" stroke="#d7bcd7" stroke-width="1.1"/>
<text x="247.50" y="511.96" font-size="7.4" text-anchor="start" fill="#1a1a1a" stroke="#1a1a1a" stroke-width="0.14">IVT EBER2</text>
<line x1="232.50" y1="518.00" x2="245.00" y2="518.00" stroke="#d2691e" stroke-width="1.1"/>
<text x="247.50" y="520.66" font-size="7.4" text-anchor="start" fill="#1a1a1a" stroke="#1a1a1a" stroke-width="0.14">IVT RN7SK</text>
<line x1="232.50" y1="526.80" x2="245.00" y2="526.80" stroke="#2e2e9e" stroke-width="1.1"/>
<text x="247.50" y="529.46" font-size="7.4" text-anchor="start" fill="#1a1a1a" stroke="#1a1a1a" stroke-width="0.14">IVT tRNA pool</text>
<line x1="385.70" y1="25.50" x2="385.70" y2="78.10" stroke="#7a7a7a" stroke-width="0.9"/>
<line x1="383.20" y1="25.50" x2="385.70" y2="25.50" stroke="#7a7a7a" stroke-width="0.9"/>
<line x1="383.20" y1="38.65" x2="385.70" y2="38.65" stroke="#7a7a7a" stroke-width="0.9"/>
<line x1="383.20" y1="51.80" x2="385.70" y2="51.80" stroke="#7a7a7a" stroke-width="0.9"/>
<line x1="383.20" y1="64.95" x2="385.70" y2="64.95" stroke="#7a7a7a" stroke-width="0.9"/>
<line x1="383.20" y1="78.10" x2="385.70" y2="78.10" stroke="#7a7a7a" stroke-width="0.9"/>
<text x="381.20" y="28.12" font-size="5.9" text-anchor="end" fill="#555" stroke="#555" stroke-width="0.14">0 - 8000</text>
<line x1="385.70" y1="82.90" x2="385.70" y2="135.30" stroke="#7a7a7a" stroke-width="0.9"/>
<line x1="383.20" y1="82.90" x2="385.70" y2="82.90" stroke="#7a7a7a" stroke-width="0.9"/>
<line x1="383.20" y1="96.00" x2="385.70" y2="96.00" stroke="#7a7a7a" stroke-width="0.9"/>
<line x1="383.20" y1="109.10" x2="385.70" y2="109.10" stroke="#7a7a7a" stroke-width="0.9"/>
<line x1="383.20" y1="122.20" x2="385.70" y2="122.20" stroke="#7a7a7a" stroke-width="0.9"/>
<line x1="383.20" y1="135.30" x2="385.70" y2="135.30" stroke="#7a7a7a" stroke-width="0.9"/>
<text x="381.20" y="85.52" font-size="5.9" text-anchor="end" fill="#555" stroke="#555" stroke-width="0.14">0 - 8000</text>
<text x="389.60" y="32.07" font-size="8.8" text-anchor="start" fill="#1a1a1a" stroke="#1a1a1a" stroke-width="0.14">ARPE-19 #1</text>
<text x="389.60" y="89.97" font-size="8.8" text-anchor="start" fill="#1a1a1a" stroke="#1a1a1a" stroke-width="0.14">IVT</text>
<text x="349.50" y="80.56" font-size="7.1" text-anchor="middle" fill="#333" transform="rotate(-90 349.50 78.00)" stroke="#333" stroke-width="0.14">read depth</text>
<polygon points="439.20,77.20 440.20,60.00 441.00,47.30 441.00,47.34 442.30,47.62 443.60,47.41 444.90,47.62 446.20,47.61 447.50,47.03 448.80,46.95 450.10,47.74 451.40,47.14 452.70,47.08 454.00,47.82 455.30,47.26 456.60,47.60 457.90,47.22 459.20,47.35 460.50,46.83 461.80,47.29 463.10,47.50 464.40,47.12 465.70,47.31 467.00,47.22 468.30,46.58 469.60,47.25 470.90,47.05 472.20,46.73 473.50,46.44 474.80,47.24 476.10,46.82 477.40,47.04 478.70,47.17 480.00,46.98 481.30,47.16 482.60,46.61 483.90,46.98 485.20,46.60 486.50,47.06 487.80,46.98 489.10,46.17 490.40,46.18 491.70,46.23 493.00,46.95 494.30,46.40 495.60,46.56 496.90,46.21 498.20,46.39 499.50,46.24 500.80,46.17 502.10,46.38 503.40,46.35 504.70,46.64 506.00,46.39 507.30,46.61 508.60,46.51 509.90,46.62 511.20,46.27 512.50,45.74 513.80,46.41 515.10,46.48 516.40,46.39 517.70,46.03 519.00,46.15 520.30,45.62 521.60,46.21 522.90,45.92 524.20,45.61 525.50,45.36 526.80,46.12 528.10,46.23 529.40,45.30 530.70,45.98 532.00,45.57 533.30,45.28 534.60,45.39 535.90,45.84 537.20,45.92 538.50,45.06 539.80,45.60 541.10,45.01 542.40,45.65 543.70,45.24 545.00,45.76 546.30,45.83 547.60,45.33 548.90,45.79 550.20,45.08 551.50,44.82 552.80,45.31 554.10,44.72 555.40,44.85 556.70,45.04 558.00,45.21 559.30,44.73 560.60,44.59 561.90,45.38 562.70,45.00 563.20,53.40 565.30,52.00 566.60,57.30 568.50,52.90 570.60,54.70 571.40,55.00 571.90,62.60 577.10,66.00 581.00,67.80 587.60,73.10 592.90,76.50 598.00,77.20 600.00,77.50 439.20,77.50" fill="#f05228"/>
<polygon points="439.20,135.00 440.30,110.00 441.80,93.70 441.80,93.51 443.10,94.19 444.40,94.15 445.70,93.66 447.00,93.77 448.30,93.86 449.60,94.01 450.90,93.99 452.20,93.98 453.50,94.07 454.80,94.42 456.10,94.01 457.40,93.96 458.70,94.28 460.00,93.82 461.30,93.92 462.60,94.62 463.90,94.19 465.20,94.25 466.50,93.74 467.80,94.17 469.10,95.63 470.40,97.15 471.70,96.67 473.00,94.65 474.30,93.95 475.60,94.55 476.90,94.41 478.20,94.65 479.50,94.35 480.80,94.74 482.10,94.79 483.40,94.11 484.70,94.17 486.00,94.82 487.30,95.13 488.60,94.45 489.90,94.68 491.20,94.84 492.50,94.60 493.80,94.67 495.10,94.65 496.40,94.73 497.70,94.98 499.00,94.72 500.30,94.82 501.60,95.24 502.90,94.53 504.20,95.10 505.50,95.29 506.80,94.89 508.10,94.83 509.40,95.44 510.70,94.90 512.00,94.88 513.30,95.16 514.60,95.45 515.90,98.20 517.20,104.62 518.50,98.49 519.80,98.96 521.10,105.69 522.40,102.31 523.70,95.11 525.00,95.31 526.30,95.65 527.60,95.91 528.90,95.50 530.20,95.30 531.50,95.23 532.80,95.66 534.10,95.35 535.40,96.00 536.70,96.06 538.00,95.43 539.30,95.55 540.60,96.11 541.90,95.97 543.20,96.16 544.50,95.73 545.80,95.54 547.10,95.73 548.40,96.26 549.70,95.76 548.50,97.00 550.30,103.40 551.20,120.00 552.20,133.40 575.00,134.00 598.00,134.60 598.00,135.30 439.20,135.30" fill="#c4c4c4"/>
<rect x="436.60" y="142.30" width="127.90" height="5.70" fill="#f05228"/>
<text x="568.50" y="148.10" font-size="7.5" text-anchor="start" fill="#333" stroke="#333" stroke-width="0.14">RN7SK</text>
<line x1="391.50" y1="160.00" x2="622.00" y2="160.00" stroke="#333" stroke-width="1.3"/>
<line x1="429.00" y1="158.00" x2="429.00" y2="160.00" stroke="#555" stroke-width="0.6"/>
<line x1="468.00" y1="160.00" x2="468.00" y2="162.00" stroke="#555" stroke-width="0.6"/>
<line x1="507.00" y1="158.00" x2="507.00" y2="160.00" stroke="#555" stroke-width="0.6"/>
<line x1="546.00" y1="160.00" x2="546.00" y2="162.00" stroke="#555" stroke-width="0.6"/>
<line x1="585.00" y1="158.00" x2="585.00" y2="160.00" stroke="#555" stroke-width="0.6"/>
<text x="389.00" y="161.55" font-size="5.7" text-anchor="end" fill="#333" stroke="#333" stroke-width="0.14">52.9955 Mb</text>
<text x="624.00" y="161.55" font-size="5.7" text-anchor="start" fill="#333" stroke="#333" stroke-width="0.14">52.9961 Mb</text>
<rect x="469.10" y="213.70" width="4.30" height="4.70" fill="#e6e6f8" stroke="#fff" stroke-width="0.3"/>
<rect x="469.10" y="218.40" width="4.30" height="4.70" fill="#e6e6f8" stroke="#fff" stroke-width="0.3"/>
<rect x="469.10" y="223.10" width="4.30" height="4.70" fill="#e6e6f8" stroke="#fff" stroke-width="0.3"/>
<rect x="469.10" y="227.80" width="4.30" height="4.70" fill="#e6e6f8" stroke="#fff" stroke-width="0.3"/>
<rect x="469.10" y="232.50" width="4.30" height="4.70" fill="#e6e6f8" stroke="#fff" stroke-width="0.3"/>
<rect x="469.10" y="237.20" width="4.30" height="4.70" fill="#e6e6f8" stroke="#fff" stroke-width="0.3"/>
<rect x="469.10" y="241.90" width="4.30" height="4.70" fill="#eef0fb" stroke="#fff" stroke-width="0.3"/>
<rect x="469.10" y="246.60" width="4.30" height="4.70" fill="#eef0fb" stroke="#fff" stroke-width="0.3"/>
<rect x="469.10" y="251.30" width="4.30" height="4.70" fill="#eef0fb" stroke="#fff" stroke-width="0.3"/>
<rect x="469.10" y="256.00" width="4.30" height="4.70" fill="#eef0fb" stroke="#fff" stroke-width="0.3"/>
<rect x="469.10" y="260.70" width="4.30" height="4.70" fill="#eef0fb" stroke="#fff" stroke-width="0.3"/>
<rect x="469.10" y="265.40" width="4.30" height="4.70" fill="#eef0fb" stroke="#fff" stroke-width="0.3"/>
<rect x="478.00" y="213.70" width="4.20" height="4.70" fill="#eef0fb" stroke="#fff" stroke-width="0.3"/>
<rect x="478.00" y="218.40" width="4.20" height="4.70" fill="#eef0fb" stroke="#fff" stroke-width="0.3"/>
<rect x="478.00" y="223.10" width="4.20" height="4.70" fill="#eef0fb" stroke="#fff" stroke-width="0.3"/>
<rect x="478.00" y="227.80" width="4.20" height="4.70" fill="#eef0fb" stroke="#fff" stroke-width="0.3"/>
<rect x="478.00" y="232.50" width="4.20" height="4.70" fill="#eef0fb" stroke="#fff" stroke-width="0.3"/>
<rect x="478.00" y="237.20" width="4.20" height="4.70" fill="#eef0fb" stroke="#fff" stroke-width="0.3"/>
<rect x="478.00" y="241.90" width="4.20" height="4.70" fill="#eef0fb" stroke="#fff" stroke-width="0.3"/>
<rect x="478.00" y="246.60" width="4.20" height="4.70" fill="#eef0fb" stroke="#fff" stroke-width="0.3"/>
<rect x="478.00" y="251.30" width="4.20" height="4.70" fill="#eef0fb" stroke="#fff" stroke-width="0.3"/>
<rect x="478.00" y="256.00" width="4.20" height="4.70" fill="#eef0fb" stroke="#fff" stroke-width="0.3"/>
<rect x="478.00" y="260.70" width="4.20" height="4.70" fill="#eef0fb" stroke="#fff" stroke-width="0.3"/>
<rect x="478.00" y="265.40" width="4.20" height="4.70" fill="#eef0fb" stroke="#fff" stroke-width="0.3"/>
<rect x="497.00" y="213.70" width="3.80" height="4.70" fill="#eef0fb" stroke="#fff" stroke-width="0.3"/>
<rect x="497.00" y="218.40" width="3.80" height="4.70" fill="#eef0fb" stroke="#fff" stroke-width="0.3"/>
<rect x="497.00" y="223.10" width="3.80" height="4.70" fill="#eef0fb" stroke="#fff" stroke-width="0.3"/>
<rect x="497.00" y="227.80" width="3.80" height="4.70" fill="#eef0fb" stroke="#fff" stroke-width="0.3"/>
<rect x="497.00" y="232.50" width="3.80" height="4.70" fill="#eef0fb" stroke="#fff" stroke-width="0.3"/>
<rect x="497.00" y="237.20" width="3.80" height="4.70" fill="#eef0fb" stroke="#fff" stroke-width="0.3"/>
<rect x="497.00" y="241.90" width="3.80" height="4.70" fill="#eef0fb" stroke="#fff" stroke-width="0.3"/>
<rect x="497.00" y="246.60" width="3.80" height="4.70" fill="#eef0fb" stroke="#fff" stroke-width="0.3"/>
<rect x="497.00" y="251.30" width="3.80" height="4.70" fill="#eef0fb" stroke="#fff" stroke-width="0.3"/>
<rect x="497.00" y="256.00" width="3.80" height="4.70" fill="#eef0fb" stroke="#fff" stroke-width="0.3"/>
<rect x="497.00" y="260.70" width="3.80" height="4.70" fill="#eef0fb" stroke="#fff" stroke-width="0.3"/>
<rect x="497.00" y="265.40" width="3.80" height="4.70" fill="#eef0fb" stroke="#fff" stroke-width="0.3"/>
<rect x="528.80" y="213.70" width="4.10" height="4.70" fill="#eef0fb" stroke="#fff" stroke-width="0.3"/>
<rect x="528.80" y="218.40" width="4.10" height="4.70" fill="#eef0fb" stroke="#fff" stroke-width="0.3"/>
<rect x="528.80" y="223.10" width="4.10" height="4.70" fill="#eef0fb" stroke="#fff" stroke-width="0.3"/>
<rect x="528.80" y="227.80" width="4.10" height="4.70" fill="#eef0fb" stroke="#fff" stroke-width="0.3"/>
<rect x="528.80" y="232.50" width="4.10" height="4.70" fill="#eef0fb" stroke="#fff" stroke-width="0.3"/>
<rect x="528.80" y="237.20" width="4.10" height="4.70" fill="#eef0fb" stroke="#fff" stroke-width="0.3"/>
<rect x="528.80" y="241.90" width="4.10" height="4.70" fill="#eef0fb" stroke="#fff" stroke-width="0.3"/>
<rect x="528.80" y="246.60" width="4.10" height="4.70" fill="#eef0fb" stroke="#fff" stroke-width="0.3"/>
<rect x="528.80" y="251.30" width="4.10" height="4.70" fill="#eef0fb" stroke="#fff" stroke-width="0.3"/>
<rect x="528.80" y="256.00" width="4.10" height="4.70" fill="#eef0fb" stroke="#fff" stroke-width="0.3"/>
<rect x="528.80" y="260.70" width="4.10" height="4.70" fill="#eef0fb" stroke="#fff" stroke-width="0.3"/>
<rect x="528.80" y="265.40" width="4.10" height="4.70" fill="#eef0fb" stroke="#fff" stroke-width="0.3"/>
<rect x="538.00" y="213.70" width="3.80" height="4.70" fill="#eef0fb" stroke="#fff" stroke-width="0.3"/>
<rect x="538.00" y="218.40" width="3.80" height="4.70" fill="#eef0fb" stroke="#fff" stroke-width="0.3"/>
<rect x="538.00" y="223.10" width="3.80" height="4.70" fill="#eef0fb" stroke="#fff" stroke-width="0.3"/>
<rect x="538.00" y="227.80" width="3.80" height="4.70" fill="#eef0fb" stroke="#fff" stroke-width="0.3"/>
<rect x="538.00" y="232.50" width="3.80" height="4.70" fill="#eef0fb" stroke="#fff" stroke-width="0.3"/>
<rect x="538.00" y="237.20" width="3.80" height="4.70" fill="#eef0fb" stroke="#fff" stroke-width="0.3"/>
<rect x="538.00" y="241.90" width="3.80" height="4.70" fill="#eef0fb" stroke="#fff" stroke-width="0.3"/>
<rect x="538.00" y="246.60" width="3.80" height="4.70" fill="#eef0fb" stroke="#fff" stroke-width="0.3"/>
<rect x="538.00" y="251.30" width="3.80" height="4.70" fill="#eef0fb" stroke="#fff" stroke-width="0.3"/>
<rect x="538.00" y="256.00" width="3.80" height="4.70" fill="#eef0fb" stroke="#fff" stroke-width="0.3"/>
<rect x="538.00" y="260.70" width="3.80" height="4.70" fill="#eef0fb" stroke="#fff" stroke-width="0.3"/>
<rect x="538.00" y="265.40" width="3.80" height="4.70" fill="#eef0fb" stroke="#fff" stroke-width="0.3"/>
<rect x="547.00" y="213.70" width="3.80" height="4.70" fill="#eef0fb" stroke="#fff" stroke-width="0.3"/>
<rect x="547.00" y="218.40" width="3.80" height="4.70" fill="#eef0fb" stroke="#fff" stroke-width="0.3"/>
<rect x="547.00" y="223.10" width="3.80" height="4.70" fill="#eef0fb" stroke="#fff" stroke-width="0.3"/>
<rect x="547.00" y="227.80" width="3.80" height="4.70" fill="#eef0fb" stroke="#fff" stroke-width="0.3"/>
<rect x="547.00" y="232.50" width="3.80" height="4.70" fill="#eef0fb" stroke="#fff" stroke-width="0.3"/>
<rect x="547.00" y="237.20" width="3.80" height="4.70" fill="#eef0fb" stroke="#fff" stroke-width="0.3"/>
<rect x="547.00" y="241.90" width="3.80" height="4.70" fill="#eef0fb" stroke="#fff" stroke-width="0.3"/>
<rect x="547.00" y="246.60" width="3.80" height="4.70" fill="#eef0fb" stroke="#fff" stroke-width="0.3"/>
<rect x="547.00" y="251.30" width="3.80" height="4.70" fill="#eef0fb" stroke="#fff" stroke-width="0.3"/>
<rect x="547.00" y="256.00" width="3.80" height="4.70" fill="#eef0fb" stroke="#fff" stroke-width="0.3"/>
<rect x="547.00" y="260.70" width="3.80" height="4.70" fill="#eef0fb" stroke="#fff" stroke-width="0.3"/>
<rect x="547.00" y="265.40" width="3.80" height="4.70" fill="#eef0fb" stroke="#fff" stroke-width="0.3"/>
<rect x="583.60" y="213.70" width="4.10" height="4.70" fill="#e6e6f8" stroke="#fff" stroke-width="0.3"/>
<rect x="583.60" y="218.40" width="4.10" height="4.70" fill="#e6e6f8" stroke="#fff" stroke-width="0.3"/>
<rect x="583.60" y="223.10" width="4.10" height="4.70" fill="#e6e6f8" stroke="#fff" stroke-width="0.3"/>
<rect x="583.60" y="227.80" width="4.10" height="4.70" fill="#d8d4f4" stroke="#fff" stroke-width="0.3"/>
<rect x="583.60" y="232.50" width="4.10" height="4.70" fill="#e6e6f8" stroke="#fff" stroke-width="0.3"/>
<rect x="583.60" y="237.20" width="4.10" height="4.70" fill="#e6e6f8" stroke="#fff" stroke-width="0.3"/>
<rect x="583.60" y="241.90" width="4.10" height="4.70" fill="#eef0fb" stroke="#fff" stroke-width="0.3"/>
<rect x="583.60" y="246.60" width="4.10" height="4.70" fill="#eef0fb" stroke="#fff" stroke-width="0.3"/>
<rect x="583.60" y="251.30" width="4.10" height="4.70" fill="#eef0fb" stroke="#fff" stroke-width="0.3"/>
<rect x="583.60" y="256.00" width="4.10" height="4.70" fill="#eef0fb" stroke="#fff" stroke-width="0.3"/>
<rect x="583.60" y="260.70" width="4.10" height="4.70" fill="#eef0fb" stroke="#fff" stroke-width="0.3"/>
<rect x="583.60" y="265.40" width="4.10" height="4.70" fill="#eef0fb" stroke="#fff" stroke-width="0.3"/>
<rect x="587.70" y="213.70" width="4.50" height="4.70" fill="#e6e6f8" stroke="#fff" stroke-width="0.3"/>
<rect x="587.70" y="218.40" width="4.50" height="4.70" fill="#e6e6f8" stroke="#fff" stroke-width="0.3"/>
<rect x="587.70" y="223.10" width="4.50" height="4.70" fill="#e6e6f8" stroke="#fff" stroke-width="0.3"/>
<rect x="587.70" y="227.80" width="4.50" height="4.70" fill="#e6e6f8" stroke="#fff" stroke-width="0.3"/>
<rect x="587.70" y="232.50" width="4.50" height="4.70" fill="#e6e6f8" stroke="#fff" stroke-width="0.3"/>
<rect x="587.70" y="237.20" width="4.50" height="4.70" fill="#e6e6f8" stroke="#fff" stroke-width="0.3"/>
<rect x="587.70" y="241.90" width="4.50" height="4.70" fill="#eef0fb" stroke="#fff" stroke-width="0.3"/>
<rect x="587.70" y="246.60" width="4.50" height="4.70" fill="#eef0fb" stroke="#fff" stroke-width="0.3"/>
<rect x="587.70" y="251.30" width="4.50" height="4.70" fill="#eef0fb" stroke="#fff" stroke-width="0.3"/>
<rect x="587.70" y="256.00" width="4.50" height="4.70" fill="#eef0fb" stroke="#fff" stroke-width="0.3"/>
<rect x="587.70" y="260.70" width="4.50" height="4.70" fill="#eef0fb" stroke="#fff" stroke-width="0.3"/>
<rect x="587.70" y="265.40" width="4.50" height="4.70" fill="#eef0fb" stroke="#fff" stroke-width="0.3"/>
<rect x="602.00" y="213.70" width="3.80" height="4.70" fill="#eef0fb" stroke="#fff" stroke-width="0.3"/>
<rect x="602.00" y="218.40" width="3.80" height="4.70" fill="#eef0fb" stroke="#fff" stroke-width="0.3"/>
<rect x="602.00" y="223.10" width="3.80" height="4.70" fill="#eef0fb" stroke="#fff" stroke-width="0.3"/>
<rect x="602.00" y="227.80" width="3.80" height="4.70" fill="#eef0fb" stroke="#fff" stroke-width="0.3"/>
<rect x="602.00" y="232.50" width="3.80" height="4.70" fill="#eef0fb" stroke="#fff" stroke-width="0.3"/>
<rect x="602.00" y="237.20" width="3.80" height="4.70" fill="#eef0fb" stroke="#fff" stroke-width="0.3"/>
<rect x="602.00" y="241.90" width="3.80" height="4.70" fill="#eef0fb" stroke="#fff" stroke-width="0.3"/>
<rect x="602.00" y="246.60" width="3.80" height="4.70" fill="#eef0fb" stroke="#fff" stroke-width="0.3"/>
<rect x="602.00" y="251.30" width="3.80" height="4.70" fill="#eef0fb" stroke="#fff" stroke-width="0.3"/>
<rect x="602.00" y="256.00" width="3.80" height="4.70" fill="#eef0fb" stroke="#fff" stroke-width="0.3"/>
<rect x="602.00" y="260.70" width="3.80" height="4.70" fill="#eef0fb" stroke="#fff" stroke-width="0.3"/>
<rect x="602.00" y="265.40" width="3.80" height="4.70" fill="#eef0fb" stroke="#fff" stroke-width="0.3"/>
<rect x="643.00" y="213.70" width="4.50" height="4.70" fill="#e6e6f8" stroke="#fff" stroke-width="0.3"/>
<rect x="643.00" y="218.40" width="4.50" height="4.70" fill="#e6e6f8" stroke="#fff" stroke-width="0.3"/>
<rect x="643.00" y="223.10" width="4.50" height="4.70" fill="#e6e6f8" stroke="#fff" stroke-width="0.3"/>
<rect x="643.00" y="227.80" width="4.50" height="4.70" fill="#e6e6f8" stroke="#fff" stroke-width="0.3"/>
<rect x="643.00" y="232.50" width="4.50" height="4.70" fill="#e6e6f8" stroke="#fff" stroke-width="0.3"/>
<rect x="643.00" y="237.20" width="4.50" height="4.70" fill="#e6e6f8" stroke="#fff" stroke-width="0.3"/>
<rect x="643.00" y="241.90" width="4.50" height="4.70" fill="#eef0fb" stroke="#fff" stroke-width="0.3"/>
<rect x="643.00" y="246.60" width="4.50" height="4.70" fill="#eef0fb" stroke="#fff" stroke-width="0.3"/>
<rect x="643.00" y="251.30" width="4.50" height="4.70" fill="#eef0fb" stroke="#fff" stroke-width="0.3"/>
<rect x="643.00" y="256.00" width="4.50" height="4.70" fill="#eef0fb" stroke="#fff" stroke-width="0.3"/>
<rect x="643.00" y="260.70" width="4.50" height="4.70" fill="#eef0fb" stroke="#fff" stroke-width="0.3"/>
<rect x="643.00" y="265.40" width="4.50" height="4.70" fill="#eef0fb" stroke="#fff" stroke-width="0.3"/>
<rect x="647.50" y="213.70" width="4.70" height="4.70" fill="#e6e6f8" stroke="#fff" stroke-width="0.3"/>
<rect x="647.50" y="218.40" width="4.70" height="4.70" fill="#e6e6f8" stroke="#fff" stroke-width="0.3"/>
<rect x="647.50" y="223.10" width="4.70" height="4.70" fill="#e6e6f8" stroke="#fff" stroke-width="0.3"/>
<rect x="647.50" y="227.80" width="4.70" height="4.70" fill="#cbc3f0" stroke="#fff" stroke-width="0.3"/>
<rect x="647.50" y="232.50" width="4.70" height="4.70" fill="#e6e6f8" stroke="#fff" stroke-width="0.3"/>
<rect x="647.50" y="237.20" width="4.70" height="4.70" fill="#e6e6f8" stroke="#fff" stroke-width="0.3"/>
<rect x="647.50" y="241.90" width="4.70" height="4.70" fill="#eef0fb" stroke="#fff" stroke-width="0.3"/>
<rect x="647.50" y="246.60" width="4.70" height="4.70" fill="#eef0fb" stroke="#fff" stroke-width="0.3"/>
<rect x="647.50" y="251.30" width="4.70" height="4.70" fill="#eef0fb" stroke="#fff" stroke-width="0.3"/>
<rect x="647.50" y="256.00" width="4.70" height="4.70" fill="#eef0fb" stroke="#fff" stroke-width="0.3"/>
<rect x="647.50" y="260.70" width="4.70" height="4.70" fill="#eef0fb" stroke="#fff" stroke-width="0.3"/>
<rect x="647.50" y="265.40" width="4.70" height="4.70" fill="#eef0fb" stroke="#fff" stroke-width="0.3"/>
<rect x="401.50" y="213.70" width="257.90" height="56.40" fill="none" stroke="#c4c4c4" stroke-width="0.8"/>
<line x1="402.50" y1="242.40" x2="659.40" y2="242.40" stroke="#222" stroke-width="1.0" stroke-dasharray="4,1.1"/>
<line x1="402.70" y1="270.10" x2="402.70" y2="271.70" stroke="#888" stroke-width="0.6"/>
<text x="402.70" y="279.22" font-size="7.0" text-anchor="middle" fill="#3a3a3a" stroke="#3a3a3a" stroke-width="0.14">0</text>
<line x1="448.40" y1="270.10" x2="448.40" y2="271.70" stroke="#888" stroke-width="0.6"/>
<text x="448.40" y="279.22" font-size="7.0" text-anchor="middle" fill="#3a3a3a" stroke="#3a3a3a" stroke-width="0.14">10</text>
<line x1="494.00" y1="270.10" x2="494.00" y2="271.70" stroke="#888" stroke-width="0.6"/>
<text x="494.00" y="279.22" font-size="7.0" text-anchor="middle" fill="#3a3a3a" stroke="#3a3a3a" stroke-width="0.14">20</text>
<line x1="540.20" y1="270.10" x2="540.20" y2="271.70" stroke="#888" stroke-width="0.6"/>
<text x="540.20" y="279.22" font-size="7.0" text-anchor="middle" fill="#3a3a3a" stroke="#3a3a3a" stroke-width="0.14">30</text>
<line x1="585.40" y1="270.10" x2="585.40" y2="271.70" stroke="#888" stroke-width="0.6"/>
<text x="585.40" y="279.22" font-size="7.0" text-anchor="middle" fill="#3a3a3a" stroke="#3a3a3a" stroke-width="0.14">40</text>
<line x1="631.20" y1="270.10" x2="631.20" y2="271.70" stroke="#888" stroke-width="0.6"/>
<text x="631.20" y="279.22" font-size="7.0" text-anchor="middle" fill="#3a3a3a" stroke="#3a3a3a" stroke-width="0.14">50</text>
<text x="662.60" y="231.17" font-size="8.8" text-anchor="start" fill="#1a1a1a" stroke="#1a1a1a" stroke-width="0.14">no filt</text>
<text x="662.60" y="259.47" font-size="8.8" text-anchor="start" fill="#1a1a1a" stroke="#1a1a1a" stroke-width="0.14">filt</text>
<rect x="409.90" y="279.70" width="4.10" height="4.72" fill="#eef0fb" stroke="#fff" stroke-width="0.3"/>
<rect x="409.90" y="284.42" width="4.10" height="4.72" fill="#eef0fb" stroke="#fff" stroke-width="0.3"/>
<rect x="409.90" y="289.13" width="4.10" height="4.72" fill="#eef0fb" stroke="#fff" stroke-width="0.3"/>
<rect x="409.90" y="293.85" width="4.10" height="4.72" fill="#eef0fb" stroke="#fff" stroke-width="0.3"/>
<rect x="409.90" y="298.57" width="4.10" height="4.72" fill="#eef0fb" stroke="#fff" stroke-width="0.3"/>
<rect x="409.90" y="303.28" width="4.10" height="4.72" fill="#eef0fb" stroke="#fff" stroke-width="0.3"/>
<rect x="409.90" y="308.00" width="4.10" height="4.72" fill="#eef0fb" stroke="#fff" stroke-width="0.3"/>
<rect x="409.90" y="312.72" width="4.10" height="4.72" fill="#eef0fb" stroke="#fff" stroke-width="0.3"/>
<rect x="409.90" y="317.43" width="4.10" height="4.72" fill="#eef0fb" stroke="#fff" stroke-width="0.3"/>
<rect x="409.90" y="322.15" width="4.10" height="4.72" fill="#eef0fb" stroke="#fff" stroke-width="0.3"/>
<rect x="409.90" y="326.87" width="4.10" height="4.72" fill="#eef0fb" stroke="#fff" stroke-width="0.3"/>
<rect x="409.90" y="331.58" width="4.10" height="4.72" fill="#eef0fb" stroke="#fff" stroke-width="0.3"/>
<rect x="414.00" y="279.70" width="4.00" height="4.72" fill="#eef0fb" stroke="#fff" stroke-width="0.3"/>
<rect x="414.00" y="284.42" width="4.00" height="4.72" fill="#e2e0f7" stroke="#fff" stroke-width="0.3"/>
<rect x="414.00" y="289.13" width="4.00" height="4.72" fill="#e2e0f7" stroke="#fff" stroke-width="0.3"/>
<rect x="414.00" y="293.85" width="4.00" height="4.72" fill="#dcd8f5" stroke="#fff" stroke-width="0.3"/>
<rect x="414.00" y="298.57" width="4.00" height="4.72" fill="#eef0fb" stroke="#fff" stroke-width="0.3"/>
<rect x="414.00" y="303.28" width="4.00" height="4.72" fill="#eef0fb" stroke="#fff" stroke-width="0.3"/>
<rect x="414.00" y="308.00" width="4.00" height="4.72" fill="#eef0fb" stroke="#fff" stroke-width="0.3"/>
<rect x="414.00" y="312.72" width="4.00" height="4.72" fill="#eef0fb" stroke="#fff" stroke-width="0.3"/>
<rect x="414.00" y="317.43" width="4.00" height="4.72" fill="#eef0fb" stroke="#fff" stroke-width="0.3"/>
<rect x="414.00" y="322.15" width="4.00" height="4.72" fill="#eef0fb" stroke="#fff" stroke-width="0.3"/>
<rect x="414.00" y="326.87" width="4.00" height="4.72" fill="#eef0fb" stroke="#fff" stroke-width="0.3"/>
<rect x="414.00" y="331.58" width="4.00" height="4.72" fill="#eef0fb" stroke="#fff" stroke-width="0.3"/>
<rect x="437.20" y="279.70" width="3.70" height="4.72" fill="#eef0fb" stroke="#fff" stroke-width="0.3"/>
<rect x="437.20" y="284.42" width="3.70" height="4.72" fill="#eef0fb" stroke="#fff" stroke-width="0.3"/>
<rect x="437.20" y="289.13" width="3.70" height="4.72" fill="#eef0fb" stroke="#fff" stroke-width="0.3"/>
<rect x="437.20" y="293.85" width="3.70" height="4.72" fill="#eef0fb" stroke="#fff" stroke-width="0.3"/>
<rect x="437.20" y="298.57" width="3.70" height="4.72" fill="#eef0fb" stroke="#fff" stroke-width="0.3"/>
<rect x="437.20" y="303.28" width="3.70" height="4.72" fill="#eef0fb" stroke="#fff" stroke-width="0.3"/>
<rect x="437.20" y="308.00" width="3.70" height="4.72" fill="#eef0fb" stroke="#fff" stroke-width="0.3"/>
<rect x="437.20" y="312.72" width="3.70" height="4.72" fill="#eef0fb" stroke="#fff" stroke-width="0.3"/>
<rect x="437.20" y="317.43" width="3.70" height="4.72" fill="#eef0fb" stroke="#fff" stroke-width="0.3"/>
<rect x="437.20" y="322.15" width="3.70" height="4.72" fill="#eef0fb" stroke="#fff" stroke-width="0.3"/>
<rect x="437.20" y="326.87" width="3.70" height="4.72" fill="#eef0fb" stroke="#fff" stroke-width="0.3"/>
<rect x="437.20" y="331.58" width="3.70" height="4.72" fill="#eef0fb" stroke="#fff" stroke-width="0.3"/>
<rect x="451.10" y="279.70" width="3.70" height="4.72" fill="#eef0fb" stroke="#fff" stroke-width="0.3"/>
<rect x="451.10" y="284.42" width="3.70" height="4.72" fill="#eef0fb" stroke="#fff" stroke-width="0.3"/>
<rect x="451.10" y="289.13" width="3.70" height="4.72" fill="#eef0fb" stroke="#fff" stroke-width="0.3"/>
<rect x="451.10" y="293.85" width="3.70" height="4.72" fill="#eef0fb" stroke="#fff" stroke-width="0.3"/>
<rect x="451.10" y="298.57" width="3.70" height="4.72" fill="#eef0fb" stroke="#fff" stroke-width="0.3"/>
<rect x="451.10" y="303.28" width="3.70" height="4.72" fill="#eef0fb" stroke="#fff" stroke-width="0.3"/>
<rect x="451.10" y="308.00" width="3.70" height="4.72" fill="#eef0fb" stroke="#fff" stroke-width="0.3"/>
<rect x="451.10" y="312.72" width="3.70" height="4.72" fill="#eef0fb" stroke="#fff" stroke-width="0.3"/>
<rect x="451.10" y="317.43" width="3.70" height="4.72" fill="#eef0fb" stroke="#fff" stroke-width="0.3"/>
<rect x="451.10" y="322.15" width="3.70" height="4.72" fill="#eef0fb" stroke="#fff" stroke-width="0.3"/>
<rect x="451.10" y="326.87" width="3.70" height="4.72" fill="#eef0fb" stroke="#fff" stroke-width="0.3"/>
<rect x="451.10" y="331.58" width="3.70" height="4.72" fill="#eef0fb" stroke="#fff" stroke-width="0.3"/>
<rect x="460.30" y="279.70" width="3.50" height="4.72" fill="#eef0fb" stroke="#fff" stroke-width="0.3"/>
<rect x="460.30" y="284.42" width="3.50" height="4.72" fill="#eef0fb" stroke="#fff" stroke-width="0.3"/>
<rect x="460.30" y="289.13" width="3.50" height="4.72" fill="#eef0fb" stroke="#fff" stroke-width="0.3"/>
<rect x="460.30" y="293.85" width="3.50" height="4.72" fill="#eef0fb" stroke="#fff" stroke-width="0.3"/>
<rect x="460.30" y="298.57" width="3.50" height="4.72" fill="#eef0fb" stroke="#fff" stroke-width="0.3"/>
<rect x="460.30" y="303.28" width="3.50" height="4.72" fill="#eef0fb" stroke="#fff" stroke-width="0.3"/>
<rect x="460.30" y="308.00" width="3.50" height="4.72" fill="#eef0fb" stroke="#fff" stroke-width="0.3"/>
<rect x="460.30" y="312.72" width="3.50" height="4.72" fill="#eef0fb" stroke="#fff" stroke-width="0.3"/>
<rect x="460.30" y="317.43" width="3.50" height="4.72" fill="#eef0fb" stroke="#fff" stroke-width="0.3"/>
<rect x="460.30" y="322.15" width="3.50" height="4.72" fill="#eef0fb" stroke="#fff" stroke-width="0.3"/>
<rect x="460.30" y="326.87" width="3.50" height="4.72" fill="#eef0fb" stroke="#fff" stroke-width="0.3"/>
<rect x="460.30" y="331.58" width="3.50" height="4.72" fill="#eef0fb" stroke="#fff" stroke-width="0.3"/>
<rect x="478.70" y="279.70" width="3.50" height="4.72" fill="#eef0fb" stroke="#fff" stroke-width="0.3"/>
<rect x="478.70" y="284.42" width="3.50" height="4.72" fill="#eef0fb" stroke="#fff" stroke-width="0.3"/>
<rect x="478.70" y="289.13" width="3.50" height="4.72" fill="#eef0fb" stroke="#fff" stroke-width="0.3"/>
<rect x="478.70" y="293.85" width="3.50" height="4.72" fill="#eef0fb" stroke="#fff" stroke-width="0.3"/>
<rect x="478.70" y="298.57" width="3.50" height="4.72" fill="#eef0fb" stroke="#fff" stroke-width="0.3"/>
<rect x="478.70" y="303.28" width="3.50" height="4.72" fill="#eef0fb" stroke="#fff" stroke-width="0.3"/>
<rect x="478.70" y="308.00" width="3.50" height="4.72" fill="#eef0fb" stroke="#fff" stroke-width="0.3"/>
<rect x="478.70" y="312.72" width="3.50" height="4.72" fill="#eef0fb" stroke="#fff" stroke-width="0.3"/>
<rect x="478.70" y="317.43" width="3.50" height="4.72" fill="#eef0fb" stroke="#fff" stroke-width="0.3"/>
<rect x="478.70" y="322.15" width="3.50" height="4.72" fill="#eef0fb" stroke="#fff" stroke-width="0.3"/>
<rect x="478.70" y="326.87" width="3.50" height="4.72" fill="#eef0fb" stroke="#fff" stroke-width="0.3"/>
<rect x="478.70" y="331.58" width="3.50" height="4.72" fill="#eef0fb" stroke="#fff" stroke-width="0.3"/>
<rect x="497.10" y="279.70" width="3.50" height="4.72" fill="#eef0fb" stroke="#fff" stroke-width="0.3"/>
<rect x="497.10" y="284.42" width="3.50" height="4.72" fill="#eef0fb" stroke="#fff" stroke-width="0.3"/>
<rect x="497.10" y="289.13" width="3.50" height="4.72" fill="#eef0fb" stroke="#fff" stroke-width="0.3"/>
<rect x="497.10" y="293.85" width="3.50" height="4.72" fill="#eef0fb" stroke="#fff" stroke-width="0.3"/>
<rect x="497.10" y="298.57" width="3.50" height="4.72" fill="#eef0fb" stroke="#fff" stroke-width="0.3"/>
<rect x="497.10" y="303.28" width="3.50" height="4.72" fill="#eef0fb" stroke="#fff" stroke-width="0.3"/>
<rect x="497.10" y="308.00" width="3.50" height="4.72" fill="#eef0fb" stroke="#fff" stroke-width="0.3"/>
<rect x="497.10" y="312.72" width="3.50" height="4.72" fill="#eef0fb" stroke="#fff" stroke-width="0.3"/>
<rect x="497.10" y="317.43" width="3.50" height="4.72" fill="#eef0fb" stroke="#fff" stroke-width="0.3"/>
<rect x="497.10" y="322.15" width="3.50" height="4.72" fill="#eef0fb" stroke="#fff" stroke-width="0.3"/>
<rect x="497.10" y="326.87" width="3.50" height="4.72" fill="#eef0fb" stroke="#fff" stroke-width="0.3"/>
<rect x="497.10" y="331.58" width="3.50" height="4.72" fill="#eef0fb" stroke="#fff" stroke-width="0.3"/>
<rect x="532.70" y="279.70" width="4.10" height="4.72" fill="#eef0fb" stroke="#fff" stroke-width="0.3"/>
<rect x="532.70" y="284.42" width="4.10" height="4.72" fill="#eef0fb" stroke="#fff" stroke-width="0.3"/>
<rect x="532.70" y="289.13" width="4.10" height="4.72" fill="#eef0fb" stroke="#fff" stroke-width="0.3"/>
<rect x="532.70" y="293.85" width="4.10" height="4.72" fill="#eef0fb" stroke="#fff" stroke-width="0.3"/>
<rect x="532.70" y="298.57" width="4.10" height="4.72" fill="#eef0fb" stroke="#fff" stroke-width="0.3"/>
<rect x="532.70" y="303.28" width="4.10" height="4.72" fill="#eef0fb" stroke="#fff" stroke-width="0.3"/>
<rect x="532.70" y="308.00" width="4.10" height="4.72" fill="#eef0fb" stroke="#fff" stroke-width="0.3"/>
<rect x="532.70" y="312.72" width="4.10" height="4.72" fill="#eef0fb" stroke="#fff" stroke-width="0.3"/>
<rect x="532.70" y="317.43" width="4.10" height="4.72" fill="#eef0fb" stroke="#fff" stroke-width="0.3"/>
<rect x="532.70" y="322.15" width="4.10" height="4.72" fill="#eef0fb" stroke="#fff" stroke-width="0.3"/>
<rect x="532.70" y="326.87" width="4.10" height="4.72" fill="#eef0fb" stroke="#fff" stroke-width="0.3"/>
<rect x="532.70" y="331.58" width="4.10" height="4.72" fill="#eef0fb" stroke="#fff" stroke-width="0.3"/>
<rect x="541.80" y="279.70" width="4.50" height="4.72" fill="#eef0fb" stroke="#fff" stroke-width="0.3"/>
<rect x="541.80" y="284.42" width="4.50" height="4.72" fill="#eef0fb" stroke="#fff" stroke-width="0.3"/>
<rect x="541.80" y="289.13" width="4.50" height="4.72" fill="#eef0fb" stroke="#fff" stroke-width="0.3"/>
<rect x="541.80" y="293.85" width="4.50" height="4.72" fill="#eef0fb" stroke="#fff" stroke-width="0.3"/>
<rect x="541.80" y="298.57" width="4.50" height="4.72" fill="#eef0fb" stroke="#fff" stroke-width="0.3"/>
<rect x="541.80" y="303.28" width="4.50" height="4.72" fill="#eef0fb" stroke="#fff" stroke-width="0.3"/>
<rect x="541.80" y="308.00" width="4.50" height="4.72" fill="#eef0fb" stroke="#fff" stroke-width="0.3"/>
<rect x="541.80" y="312.72" width="4.50" height="4.72" fill="#eef0fb" stroke="#fff" stroke-width="0.3"/>
<rect x="541.80" y="317.43" width="4.50" height="4.72" fill="#eef0fb" stroke="#fff" stroke-width="0.3"/>
<rect x="541.80" y="322.15" width="4.50" height="4.72" fill="#eef0fb" stroke="#fff" stroke-width="0.3"/>
<rect x="541.80" y="326.87" width="4.50" height="4.72" fill="#eef0fb" stroke="#fff" stroke-width="0.3"/>
<rect x="541.80" y="331.58" width="4.50" height="4.72" fill="#eef0fb" stroke="#fff" stroke-width="0.3"/>
<rect x="565.20" y="279.70" width="4.30" height="4.72" fill="#b4a4e4" stroke="#fff" stroke-width="0.3"/>
<rect x="565.20" y="284.42" width="4.30" height="4.72" fill="#d4ccf2" stroke="#fff" stroke-width="0.3"/>
<rect x="565.20" y="289.13" width="4.30" height="4.72" fill="#d8d2f4" stroke="#fff" stroke-width="0.3"/>
<rect x="565.20" y="293.85" width="4.30" height="4.72" fill="#ac9ce2" stroke="#fff" stroke-width="0.3"/>
<rect x="565.20" y="298.57" width="4.30" height="4.72" fill="#d4ccf2" stroke="#fff" stroke-width="0.3"/>
<rect x="565.20" y="303.28" width="4.30" height="4.72" fill="#d8d2f4" stroke="#fff" stroke-width="0.3"/>
<rect x="565.20" y="308.00" width="4.30" height="4.72" fill="#eef0fb" stroke="#fff" stroke-width="0.3"/>
<rect x="565.20" y="312.72" width="4.30" height="4.72" fill="#eef0fb" stroke="#fff" stroke-width="0.3"/>
<rect x="565.20" y="317.43" width="4.30" height="4.72" fill="#eef0fb" stroke="#fff" stroke-width="0.3"/>
<rect x="565.20" y="322.15" width="4.30" height="4.72" fill="#eef0fb" stroke="#fff" stroke-width="0.3"/>
<rect x="565.20" y="326.87" width="4.30" height="4.72" fill="#eef0fb" stroke="#fff" stroke-width="0.3"/>
<rect x="565.20" y="331.58" width="4.30" height="4.72" fill="#eef0fb" stroke="#fff" stroke-width="0.3"/>
<rect x="569.50" y="279.70" width="4.70" height="4.72" fill="#a494de" stroke="#fff" stroke-width="0.3"/>
<rect x="569.50" y="284.42" width="4.70" height="4.72" fill="#ccc4f0" stroke="#fff" stroke-width="0.3"/>
<rect x="569.50" y="289.13" width="4.70" height="4.72" fill="#d0c8f0" stroke="#fff" stroke-width="0.3"/>
<rect x="569.50" y="293.85" width="4.70" height="4.72" fill="#9c8ada" stroke="#fff" stroke-width="0.3"/>
<rect x="569.50" y="298.57" width="4.70" height="4.72" fill="#ccc4f0" stroke="#fff" stroke-width="0.3"/>
<rect x="569.50" y="303.28" width="4.70" height="4.72" fill="#d4ccf2" stroke="#fff" stroke-width="0.3"/>
<rect x="569.50" y="308.00" width="4.70" height="4.72" fill="#eef0fb" stroke="#fff" stroke-width="0.3"/>
<rect x="569.50" y="312.72" width="4.70" height="4.72" fill="#eef0fb" stroke="#fff" stroke-width="0.3"/>
<rect x="569.50" y="317.43" width="4.70" height="4.72" fill="#eef0fb" stroke="#fff" stroke-width="0.3"/>
<rect x="569.50" y="322.15" width="4.70" height="4.72" fill="#eef0fb" stroke="#fff" stroke-width="0.3"/>
<rect x="569.50" y="326.87" width="4.70" height="4.72" fill="#eef0fb" stroke="#fff" stroke-width="0.3"/>
<rect x="569.50" y="331.58" width="4.70" height="4.72" fill="#eef0fb" stroke="#fff" stroke-width="0.3"/>
<rect x="583.50" y="279.70" width="4.50" height="4.72" fill="#ccc2f0" stroke="#fff" stroke-width="0.3"/>
<rect x="583.50" y="284.42" width="4.50" height="4.72" fill="#e0dcf6" stroke="#fff" stroke-width="0.3"/>
<rect x="583.50" y="289.13" width="4.50" height="4.72" fill="#e0dcf6" stroke="#fff" stroke-width="0.3"/>
<rect x="583.50" y="293.85" width="4.50" height="4.72" fill="#d4ccf2" stroke="#fff" stroke-width="0.3"/>
<rect x="583.50" y="298.57" width="4.50" height="4.72" fill="#e0dcf6" stroke="#fff" stroke-width="0.3"/>
<rect x="583.50" y="303.28" width="4.50" height="4.72" fill="#e0dcf6" stroke="#fff" stroke-width="0.3"/>
<rect x="583.50" y="308.00" width="4.50" height="4.72" fill="#eef0fb" stroke="#fff" stroke-width="0.3"/>
<rect x="583.50" y="312.72" width="4.50" height="4.72" fill="#eef0fb" stroke="#fff" stroke-width="0.3"/>
<rect x="583.50" y="317.43" width="4.50" height="4.72" fill="#eef0fb" stroke="#fff" stroke-width="0.3"/>
<rect x="583.50" y="322.15" width="4.50" height="4.72" fill="#eef0fb" stroke="#fff" stroke-width="0.3"/>
<rect x="583.50" y="326.87" width="4.50" height="4.72" fill="#eef0fb" stroke="#fff" stroke-width="0.3"/>
<rect x="583.50" y="331.58" width="4.50" height="4.72" fill="#eef0fb" stroke="#fff" stroke-width="0.3"/>
<rect x="602.00" y="279.70" width="4.30" height="4.72" fill="#b8aae8" stroke="#fff" stroke-width="0.3"/>
<rect x="602.00" y="284.42" width="4.30" height="4.72" fill="#dcd8f4" stroke="#fff" stroke-width="0.3"/>
<rect x="602.00" y="289.13" width="4.30" height="4.72" fill="#e0dcf6" stroke="#fff" stroke-width="0.3"/>
<rect x="602.00" y="293.85" width="4.30" height="4.72" fill="#c4b8ec" stroke="#fff" stroke-width="0.3"/>
<rect x="602.00" y="298.57" width="4.30" height="4.72" fill="#dcd8f4" stroke="#fff" stroke-width="0.3"/>
<rect x="602.00" y="303.28" width="4.30" height="4.72" fill="#e0dcf6" stroke="#fff" stroke-width="0.3"/>
<rect x="602.00" y="308.00" width="4.30" height="4.72" fill="#eef0fb" stroke="#fff" stroke-width="0.3"/>
<rect x="602.00" y="312.72" width="4.30" height="4.72" fill="#eef0fb" stroke="#fff" stroke-width="0.3"/>
<rect x="602.00" y="317.43" width="4.30" height="4.72" fill="#eef0fb" stroke="#fff" stroke-width="0.3"/>
<rect x="602.00" y="322.15" width="4.30" height="4.72" fill="#eef0fb" stroke="#fff" stroke-width="0.3"/>
<rect x="602.00" y="326.87" width="4.30" height="4.72" fill="#eef0fb" stroke="#fff" stroke-width="0.3"/>
<rect x="602.00" y="331.58" width="4.30" height="4.72" fill="#eef0fb" stroke="#fff" stroke-width="0.3"/>
<rect x="634.10" y="279.70" width="3.90" height="4.72" fill="#eef0fb" stroke="#fff" stroke-width="0.3"/>
<rect x="634.10" y="284.42" width="3.90" height="4.72" fill="#eef0fb" stroke="#fff" stroke-width="0.3"/>
<rect x="634.10" y="289.13" width="3.90" height="4.72" fill="#eef0fb" stroke="#fff" stroke-width="0.3"/>
<rect x="634.10" y="293.85" width="3.90" height="4.72" fill="#eef0fb" stroke="#fff" stroke-width="0.3"/>
<rect x="634.10" y="298.57" width="3.90" height="4.72" fill="#eef0fb" stroke="#fff" stroke-width="0.3"/>
<rect x="634.10" y="303.28" width="3.90" height="4.72" fill="#eef0fb" stroke="#fff" stroke-width="0.3"/>
<rect x="634.10" y="308.00" width="3.90" height="4.72" fill="#eef0fb" stroke="#fff" stroke-width="0.3"/>
<rect x="634.10" y="312.72" width="3.90" height="4.72" fill="#eef0fb" stroke="#fff" stroke-width="0.3"/>
<rect x="634.10" y="317.43" width="3.90" height="4.72" fill="#eef0fb" stroke="#fff" stroke-width="0.3"/>
<rect x="634.10" y="322.15" width="3.90" height="4.72" fill="#eef0fb" stroke="#fff" stroke-width="0.3"/>
<rect x="634.10" y="326.87" width="3.90" height="4.72" fill="#eef0fb" stroke="#fff" stroke-width="0.3"/>
<rect x="634.10" y="331.58" width="3.90" height="4.72" fill="#eef0fb" stroke="#fff" stroke-width="0.3"/>
<rect x="652.20" y="279.70" width="3.80" height="4.72" fill="#eef0fb" stroke="#fff" stroke-width="0.3"/>
<rect x="652.20" y="284.42" width="3.80" height="4.72" fill="#eef0fb" stroke="#fff" stroke-width="0.3"/>
<rect x="652.20" y="289.13" width="3.80" height="4.72" fill="#eef0fb" stroke="#fff" stroke-width="0.3"/>
<rect x="652.20" y="293.85" width="3.80" height="4.72" fill="#eef0fb" stroke="#fff" stroke-width="0.3"/>
<rect x="652.20" y="298.57" width="3.80" height="4.72" fill="#eef0fb" stroke="#fff" stroke-width="0.3"/>
<rect x="652.20" y="303.28" width="3.80" height="4.72" fill="#eef0fb" stroke="#fff" stroke-width="0.3"/>
<rect x="652.20" y="308.00" width="3.80" height="4.72" fill="#eef0fb" stroke="#fff" stroke-width="0.3"/>
<rect x="652.20" y="312.72" width="3.80" height="4.72" fill="#eef0fb" stroke="#fff" stroke-width="0.3"/>
<rect x="652.20" y="317.43" width="3.80" height="4.72" fill="#eef0fb" stroke="#fff" stroke-width="0.3"/>
<rect x="652.20" y="322.15" width="3.80" height="4.72" fill="#eef0fb" stroke="#fff" stroke-width="0.3"/>
<rect x="652.20" y="326.87" width="3.80" height="4.72" fill="#eef0fb" stroke="#fff" stroke-width="0.3"/>
<rect x="652.20" y="331.58" width="3.80" height="4.72" fill="#eef0fb" stroke="#fff" stroke-width="0.3"/>
<rect x="401.50" y="279.70" width="257.90" height="56.60" fill="none" stroke="#c4c4c4" stroke-width="0.8"/>
<line x1="402.50" y1="308.50" x2="659.40" y2="308.50" stroke="#222" stroke-width="1.0" stroke-dasharray="4,1.1"/>
<line x1="425.60" y1="336.30" x2="425.60" y2="337.90" stroke="#888" stroke-width="0.6"/>
<text x="425.60" y="345.42" font-size="7.0" text-anchor="middle" fill="#3a3a3a" stroke="#3a3a3a" stroke-width="0.14">60</text>
<line x1="471.20" y1="336.30" x2="471.20" y2="337.90" stroke="#888" stroke-width="0.6"/>
<text x="471.20" y="345.42" font-size="7.0" text-anchor="middle" fill="#3a3a3a" stroke="#3a3a3a" stroke-width="0.14">70</text>
<line x1="517.00" y1="336.30" x2="517.00" y2="337.90" stroke="#888" stroke-width="0.6"/>
<text x="517.00" y="345.42" font-size="7.0" text-anchor="middle" fill="#3a3a3a" stroke="#3a3a3a" stroke-width="0.14">80</text>
<line x1="562.40" y1="336.30" x2="562.40" y2="337.90" stroke="#888" stroke-width="0.6"/>
<text x="562.40" y="345.42" font-size="7.0" text-anchor="middle" fill="#3a3a3a" stroke="#3a3a3a" stroke-width="0.14">90</text>
<line x1="608.40" y1="336.30" x2="608.40" y2="337.90" stroke="#888" stroke-width="0.6"/>
<text x="608.40" y="345.42" font-size="7.0" text-anchor="middle" fill="#3a3a3a" stroke="#3a3a3a" stroke-width="0.14">100</text>
<line x1="654.50" y1="336.30" x2="654.50" y2="337.90" stroke="#888" stroke-width="0.6"/>
<text x="654.50" y="345.42" font-size="7.0" text-anchor="middle" fill="#3a3a3a" stroke="#3a3a3a" stroke-width="0.14">110</text>
<text x="662.60" y="297.17" font-size="8.8" text-anchor="start" fill="#1a1a1a" stroke="#1a1a1a" stroke-width="0.14">no filt</text>
<text x="662.60" y="325.47" font-size="8.8" text-anchor="start" fill="#1a1a1a" stroke="#1a1a1a" stroke-width="0.14">filt</text>
<rect x="409.60" y="346.50" width="4.30" height="4.74" fill="#e0dcf6" stroke="#fff" stroke-width="0.3"/>
<rect x="409.60" y="351.24" width="4.30" height="4.74" fill="#e6e6f8" stroke="#fff" stroke-width="0.3"/>
<rect x="409.60" y="355.98" width="4.30" height="4.74" fill="#e6e6f8" stroke="#fff" stroke-width="0.3"/>
<rect x="409.60" y="360.73" width="4.30" height="4.74" fill="#e6e6f8" stroke="#fff" stroke-width="0.3"/>
<rect x="409.60" y="365.47" width="4.30" height="4.74" fill="#e6e6f8" stroke="#fff" stroke-width="0.3"/>
<rect x="409.60" y="370.21" width="4.30" height="4.74" fill="#e6e6f8" stroke="#fff" stroke-width="0.3"/>
<rect x="409.60" y="374.95" width="4.30" height="4.74" fill="#eef0fb" stroke="#fff" stroke-width="0.3"/>
<rect x="409.60" y="379.69" width="4.30" height="4.74" fill="#eef0fb" stroke="#fff" stroke-width="0.3"/>
<rect x="409.60" y="384.43" width="4.30" height="4.74" fill="#eef0fb" stroke="#fff" stroke-width="0.3"/>
<rect x="409.60" y="389.17" width="4.30" height="4.74" fill="#eef0fb" stroke="#fff" stroke-width="0.3"/>
<rect x="409.60" y="393.92" width="4.30" height="4.74" fill="#eef0fb" stroke="#fff" stroke-width="0.3"/>
<rect x="409.60" y="398.66" width="4.30" height="4.74" fill="#eef0fb" stroke="#fff" stroke-width="0.3"/>
<rect x="428.20" y="346.50" width="3.90" height="4.74" fill="#eef0fb" stroke="#fff" stroke-width="0.3"/>
<rect x="428.20" y="351.24" width="3.90" height="4.74" fill="#eef0fb" stroke="#fff" stroke-width="0.3"/>
<rect x="428.20" y="355.98" width="3.90" height="4.74" fill="#eef0fb" stroke="#fff" stroke-width="0.3"/>
<rect x="428.20" y="360.73" width="3.90" height="4.74" fill="#eef0fb" stroke="#fff" stroke-width="0.3"/>
<rect x="428.20" y="365.47" width="3.90" height="4.74" fill="#eef0fb" stroke="#fff" stroke-width="0.3"/>
<rect x="428.20" y="370.21" width="3.90" height="4.74" fill="#eef0fb" stroke="#fff" stroke-width="0.3"/>
<rect x="428.20" y="374.95" width="3.90" height="4.74" fill="#eef0fb" stroke="#fff" stroke-width="0.3"/>
<rect x="428.20" y="379.69" width="3.90" height="4.74" fill="#eef0fb" stroke="#fff" stroke-width="0.3"/>
<rect x="428.20" y="384.43" width="3.90" height="4.74" fill="#eef0fb" stroke="#fff" stroke-width="0.3"/>
<rect x="428.20" y="389.17" width="3.90" height="4.74" fill="#eef0fb" stroke="#fff" stroke-width="0.3"/>
<rect x="428.20" y="393.92" width="3.90" height="4.74" fill="#eef0fb" stroke="#fff" stroke-width="0.3"/>
<rect x="428.20" y="398.66" width="3.90" height="4.74" fill="#eef0fb" stroke="#fff" stroke-width="0.3"/>
<rect x="446.40" y="346.50" width="4.10" height="4.74" fill="#d8d4f4" stroke="#fff" stroke-width="0.3"/>
<rect x="446.40" y="351.24" width="4.10" height="4.74" fill="#e6e6f8" stroke="#fff" stroke-width="0.3"/>
<rect x="446.40" y="355.98" width="4.10" height="4.74" fill="#e6e6f8" stroke="#fff" stroke-width="0.3"/>
<rect x="446.40" y="360.73" width="4.10" height="4.74" fill="#e6e6f8" stroke="#fff" stroke-width="0.3"/>
<rect x="446.40" y="365.47" width="4.10" height="4.74" fill="#e6e6f8" stroke="#fff" stroke-width="0.3"/>
<rect x="446.40" y="370.21" width="4.10" height="4.74" fill="#e6e6f8" stroke="#fff" stroke-width="0.3"/>
<rect x="446.40" y="374.95" width="4.10" height="4.74" fill="#eef0fb" stroke="#fff" stroke-width="0.3"/>
<rect x="446.40" y="379.69" width="4.10" height="4.74" fill="#eef0fb" stroke="#fff" stroke-width="0.3"/>
<rect x="446.40" y="384.43" width="4.10" height="4.74" fill="#eef0fb" stroke="#fff" stroke-width="0.3"/>
<rect x="446.40" y="389.17" width="4.10" height="4.74" fill="#eef0fb" stroke="#fff" stroke-width="0.3"/>
<rect x="446.40" y="393.92" width="4.10" height="4.74" fill="#eef0fb" stroke="#fff" stroke-width="0.3"/>
<rect x="446.40" y="398.66" width="4.10" height="4.74" fill="#eef0fb" stroke="#fff" stroke-width="0.3"/>
<rect x="487.50" y="346.50" width="4.10" height="4.74" fill="#eef0fb" stroke="#fff" stroke-width="0.3"/>
<rect x="487.50" y="351.24" width="4.10" height="4.74" fill="#eef0fb" stroke="#fff" stroke-width="0.3"/>
<rect x="487.50" y="355.98" width="4.10" height="4.74" fill="#eef0fb" stroke="#fff" stroke-width="0.3"/>
<rect x="487.50" y="360.73" width="4.10" height="4.74" fill="#eef0fb" stroke="#fff" stroke-width="0.3"/>
<rect x="487.50" y="365.47" width="4.10" height="4.74" fill="#eef0fb" stroke="#fff" stroke-width="0.3"/>
<rect x="487.50" y="370.21" width="4.10" height="4.74" fill="#eef0fb" stroke="#fff" stroke-width="0.3"/>
<rect x="487.50" y="374.95" width="4.10" height="4.74" fill="#eef0fb" stroke="#fff" stroke-width="0.3"/>
<rect x="487.50" y="379.69" width="4.10" height="4.74" fill="#eef0fb" stroke="#fff" stroke-width="0.3"/>
<rect x="487.50" y="384.43" width="4.10" height="4.74" fill="#eef0fb" stroke="#fff" stroke-width="0.3"/>
<rect x="487.50" y="389.17" width="4.10" height="4.74" fill="#eef0fb" stroke="#fff" stroke-width="0.3"/>
<rect x="487.50" y="393.92" width="4.10" height="4.74" fill="#eef0fb" stroke="#fff" stroke-width="0.3"/>
<rect x="487.50" y="398.66" width="4.10" height="4.74" fill="#eef0fb" stroke="#fff" stroke-width="0.3"/>
<rect x="519.60" y="346.50" width="4.10" height="4.74" fill="#eef0fb" stroke="#fff" stroke-width="0.3"/>
<rect x="519.60" y="351.24" width="4.10" height="4.74" fill="#eef0fb" stroke="#fff" stroke-width="0.3"/>
<rect x="519.60" y="355.98" width="4.10" height="4.74" fill="#eef0fb" stroke="#fff" stroke-width="0.3"/>
<rect x="519.60" y="360.73" width="4.10" height="4.74" fill="#eef0fb" stroke="#fff" stroke-width="0.3"/>
<rect x="519.60" y="365.47" width="4.10" height="4.74" fill="#eef0fb" stroke="#fff" stroke-width="0.3"/>
<rect x="519.60" y="370.21" width="4.10" height="4.74" fill="#eef0fb" stroke="#fff" stroke-width="0.3"/>
<rect x="519.60" y="374.95" width="4.10" height="4.74" fill="#eef0fb" stroke="#fff" stroke-width="0.3"/>
<rect x="519.60" y="379.69" width="4.10" height="4.74" fill="#eef0fb" stroke="#fff" stroke-width="0.3"/>
<rect x="519.60" y="384.43" width="4.10" height="4.74" fill="#eef0fb" stroke="#fff" stroke-width="0.3"/>
<rect x="519.60" y="389.17" width="4.10" height="4.74" fill="#eef0fb" stroke="#fff" stroke-width="0.3"/>
<rect x="519.60" y="393.92" width="4.10" height="4.74" fill="#eef0fb" stroke="#fff" stroke-width="0.3"/>
<rect x="519.60" y="398.66" width="4.10" height="4.74" fill="#eef0fb" stroke="#fff" stroke-width="0.3"/>
<rect x="537.90" y="346.50" width="3.90" height="4.74" fill="#eef0fb" stroke="#fff" stroke-width="0.3"/>
<rect x="537.90" y="351.24" width="3.90" height="4.74" fill="#eef0fb" stroke="#fff" stroke-width="0.3"/>
<rect x="537.90" y="355.98" width="3.90" height="4.74" fill="#eef0fb" stroke="#fff" stroke-width="0.3"/>
<rect x="537.90" y="360.73" width="3.90" height="4.74" fill="#eef0fb" stroke="#fff" stroke-width="0.3"/>
<rect x="537.90" y="365.47" width="3.90" height="4.74" fill="#eef0fb" stroke="#fff" stroke-width="0.3"/>
<rect x="537.90" y="370.21" width="3.90" height="4.74" fill="#eef0fb" stroke="#fff" stroke-width="0.3"/>
<rect x="537.90" y="374.95" width="3.90" height="4.74" fill="#eef0fb" stroke="#fff" stroke-width="0.3"/>
<rect x="537.90" y="379.69" width="3.90" height="4.74" fill="#eef0fb" stroke="#fff" stroke-width="0.3"/>
<rect x="537.90" y="384.43" width="3.90" height="4.74" fill="#eef0fb" stroke="#fff" stroke-width="0.3"/>
<rect x="537.90" y="389.17" width="3.90" height="4.74" fill="#eef0fb" stroke="#fff" stroke-width="0.3"/>
<rect x="537.90" y="393.92" width="3.90" height="4.74" fill="#eef0fb" stroke="#fff" stroke-width="0.3"/>
<rect x="537.90" y="398.66" width="3.90" height="4.74" fill="#eef0fb" stroke="#fff" stroke-width="0.3"/>
<rect x="611.00" y="346.50" width="3.90" height="4.74" fill="#dcd8f4" stroke="#fff" stroke-width="0.3"/>
<rect x="611.00" y="351.24" width="3.90" height="4.74" fill="#e6e6f8" stroke="#fff" stroke-width="0.3"/>
<rect x="611.00" y="355.98" width="3.90" height="4.74" fill="#e6e6f8" stroke="#fff" stroke-width="0.3"/>
<rect x="611.00" y="360.73" width="3.90" height="4.74" fill="#e6e6f8" stroke="#fff" stroke-width="0.3"/>
<rect x="611.00" y="365.47" width="3.90" height="4.74" fill="#e6e6f8" stroke="#fff" stroke-width="0.3"/>
<rect x="611.00" y="370.21" width="3.90" height="4.74" fill="#e6e6f8" stroke="#fff" stroke-width="0.3"/>
<rect x="611.00" y="374.95" width="3.90" height="4.74" fill="#eef0fb" stroke="#fff" stroke-width="0.3"/>
<rect x="611.00" y="379.69" width="3.90" height="4.74" fill="#eef0fb" stroke="#fff" stroke-width="0.3"/>
<rect x="611.00" y="384.43" width="3.90" height="4.74" fill="#eef0fb" stroke="#fff" stroke-width="0.3"/>
<rect x="611.00" y="389.17" width="3.90" height="4.74" fill="#eef0fb" stroke="#fff" stroke-width="0.3"/>
<rect x="611.00" y="393.92" width="3.90" height="4.74" fill="#eef0fb" stroke="#fff" stroke-width="0.3"/>
<rect x="611.00" y="398.66" width="3.90" height="4.74" fill="#eef0fb" stroke="#fff" stroke-width="0.3"/>
<rect x="643.10" y="346.50" width="3.90" height="4.74" fill="#e6e6f8" stroke="#fff" stroke-width="0.3"/>
<rect x="643.10" y="351.24" width="3.90" height="4.74" fill="#e6e6f8" stroke="#fff" stroke-width="0.3"/>
<rect x="643.10" y="355.98" width="3.90" height="4.74" fill="#e6e6f8" stroke="#fff" stroke-width="0.3"/>
<rect x="643.10" y="360.73" width="3.90" height="4.74" fill="#d4ccf2" stroke="#fff" stroke-width="0.3"/>
<rect x="643.10" y="365.47" width="3.90" height="4.74" fill="#e6e6f8" stroke="#fff" stroke-width="0.3"/>
<rect x="643.10" y="370.21" width="3.90" height="4.74" fill="#e6e6f8" stroke="#fff" stroke-width="0.3"/>
<rect x="643.10" y="374.95" width="3.90" height="4.74" fill="#eef0fb" stroke="#fff" stroke-width="0.3"/>
<rect x="643.10" y="379.69" width="3.90" height="4.74" fill="#eef0fb" stroke="#fff" stroke-width="0.3"/>
<rect x="643.10" y="384.43" width="3.90" height="4.74" fill="#eef0fb" stroke="#fff" stroke-width="0.3"/>
<rect x="643.10" y="389.17" width="3.90" height="4.74" fill="#eef0fb" stroke="#fff" stroke-width="0.3"/>
<rect x="643.10" y="393.92" width="3.90" height="4.74" fill="#eef0fb" stroke="#fff" stroke-width="0.3"/>
<rect x="643.10" y="398.66" width="3.90" height="4.74" fill="#eef0fb" stroke="#fff" stroke-width="0.3"/>
<rect x="401.50" y="346.50" width="257.90" height="56.90" fill="none" stroke="#c4c4c4" stroke-width="0.8"/>
<line x1="402.50" y1="375.45" x2="659.40" y2="375.45" stroke="#222" stroke-width="1.0" stroke-dasharray="4,1.1"/>
<line x1="403.70" y1="403.40" x2="403.70" y2="405.00" stroke="#888" stroke-width="0.6"/>
<text x="403.70" y="412.52" font-size="7.0" text-anchor="middle" fill="#3a3a3a" stroke="#3a3a3a" stroke-width="0.14">110</text>
<line x1="448.70" y1="403.40" x2="448.70" y2="405.00" stroke="#888" stroke-width="0.6"/>
<text x="448.70" y="412.52" font-size="7.0" text-anchor="middle" fill="#3a3a3a" stroke="#3a3a3a" stroke-width="0.14">120</text>
<line x1="494.00" y1="403.40" x2="494.00" y2="405.00" stroke="#888" stroke-width="0.6"/>
<text x="494.00" y="412.52" font-size="7.0" text-anchor="middle" fill="#3a3a3a" stroke="#3a3a3a" stroke-width="0.14">130</text>
<line x1="540.20" y1="403.40" x2="540.20" y2="405.00" stroke="#888" stroke-width="0.6"/>
<text x="540.20" y="412.52" font-size="7.0" text-anchor="middle" fill="#3a3a3a" stroke="#3a3a3a" stroke-width="0.14">140</text>
<line x1="585.40" y1="403.40" x2="585.40" y2="405.00" stroke="#888" stroke-width="0.6"/>
<text x="585.40" y="412.52" font-size="7.0" text-anchor="middle" fill="#3a3a3a" stroke="#3a3a3a" stroke-width="0.14">150</text>
<line x1="631.20" y1="403.40" x2="631.20" y2="405.00" stroke="#888" stroke-width="0.6"/>
<text x="631.20" y="412.52" font-size="7.0" text-anchor="middle" fill="#3a3a3a" stroke="#3a3a3a" stroke-width="0.14">160</text>
<text x="662.60" y="363.97" font-size="8.8" text-anchor="start" fill="#1a1a1a" stroke="#1a1a1a" stroke-width="0.14">no filt</text>
<text x="662.60" y="392.27" font-size="8.8" text-anchor="start" fill="#1a1a1a" stroke="#1a1a1a" stroke-width="0.14">filt</text>
<rect x="455.60" y="412.90" width="3.70" height="4.76" fill="#eef0fb" stroke="#fff" stroke-width="0.3"/>
<rect x="455.60" y="417.66" width="3.70" height="4.76" fill="#eef0fb" stroke="#fff" stroke-width="0.3"/>
<rect x="455.60" y="422.42" width="3.70" height="4.76" fill="#eef0fb" stroke="#fff" stroke-width="0.3"/>
<rect x="455.60" y="427.17" width="3.70" height="4.76" fill="#eef0fb" stroke="#fff" stroke-width="0.3"/>
<rect x="455.60" y="431.93" width="3.70" height="4.76" fill="#eef0fb" stroke="#fff" stroke-width="0.3"/>
<rect x="455.60" y="436.69" width="3.70" height="4.76" fill="#eef0fb" stroke="#fff" stroke-width="0.3"/>
<rect x="455.60" y="441.45" width="3.70" height="4.76" fill="#eef0fb" stroke="#fff" stroke-width="0.3"/>
<rect x="455.60" y="446.21" width="3.70" height="4.76" fill="#eef0fb" stroke="#fff" stroke-width="0.3"/>
<rect x="455.60" y="450.97" width="3.70" height="4.76" fill="#eef0fb" stroke="#fff" stroke-width="0.3"/>
<rect x="455.60" y="455.73" width="3.70" height="4.76" fill="#eef0fb" stroke="#fff" stroke-width="0.3"/>
<rect x="455.60" y="460.48" width="3.70" height="4.76" fill="#eef0fb" stroke="#fff" stroke-width="0.3"/>
<rect x="455.60" y="465.24" width="3.70" height="4.76" fill="#eef0fb" stroke="#fff" stroke-width="0.3"/>
<rect x="464.80" y="412.90" width="4.10" height="4.76" fill="#d8d2f4" stroke="#fff" stroke-width="0.3"/>
<rect x="464.80" y="417.66" width="4.10" height="4.76" fill="#e6e6f8" stroke="#fff" stroke-width="0.3"/>
<rect x="464.80" y="422.42" width="4.10" height="4.76" fill="#e6e6f8" stroke="#fff" stroke-width="0.3"/>
<rect x="464.80" y="427.17" width="4.10" height="4.76" fill="#e6e6f8" stroke="#fff" stroke-width="0.3"/>
<rect x="464.80" y="431.93" width="4.10" height="4.76" fill="#e6e6f8" stroke="#fff" stroke-width="0.3"/>
<rect x="464.80" y="436.69" width="4.10" height="4.76" fill="#e6e6f8" stroke="#fff" stroke-width="0.3"/>
<rect x="464.80" y="441.45" width="4.10" height="4.76" fill="#eef0fb" stroke="#fff" stroke-width="0.3"/>
<rect x="464.80" y="446.21" width="4.10" height="4.76" fill="#eef0fb" stroke="#fff" stroke-width="0.3"/>
<rect x="464.80" y="450.97" width="4.10" height="4.76" fill="#eef0fb" stroke="#fff" stroke-width="0.3"/>
<rect x="464.80" y="455.73" width="4.10" height="4.76" fill="#eef0fb" stroke="#fff" stroke-width="0.3"/>
<rect x="464.80" y="460.48" width="4.10" height="4.76" fill="#eef0fb" stroke="#fff" stroke-width="0.3"/>
<rect x="464.80" y="465.24" width="4.10" height="4.76" fill="#eef0fb" stroke="#fff" stroke-width="0.3"/>
<rect x="468.90" y="412.90" width="4.10" height="4.76" fill="#e6e6f8" stroke="#fff" stroke-width="0.3"/>
<rect x="468.90" y="417.66" width="4.10" height="4.76" fill="#e6e6f8" stroke="#fff" stroke-width="0.3"/>
<rect x="468.90" y="422.42" width="4.10" height="4.76" fill="#e6e6f8" stroke="#fff" stroke-width="0.3"/>
<rect x="468.90" y="427.17" width="4.10" height="4.76" fill="#e6e6f8" stroke="#fff" stroke-width="0.3"/>
<rect x="468.90" y="431.93" width="4.10" height="4.76" fill="#e6e6f8" stroke="#fff" stroke-width="0.3"/>
<rect x="468.90" y="436.69" width="4.10" height="4.76" fill="#e6e6f8" stroke="#fff" stroke-width="0.3"/>
<rect x="468.90" y="441.45" width="4.10" height="4.76" fill="#eef0fb" stroke="#fff" stroke-width="0.3"/>
<rect x="468.90" y="446.21" width="4.10" height="4.76" fill="#eef0fb" stroke="#fff" stroke-width="0.3"/>
<rect x="468.90" y="450.97" width="4.10" height="4.76" fill="#eef0fb" stroke="#fff" stroke-width="0.3"/>
<rect x="468.90" y="455.73" width="4.10" height="4.76" fill="#eef0fb" stroke="#fff" stroke-width="0.3"/>
<rect x="468.90" y="460.48" width="4.10" height="4.76" fill="#eef0fb" stroke="#fff" stroke-width="0.3"/>
<rect x="468.90" y="465.24" width="4.10" height="4.76" fill="#eef0fb" stroke="#fff" stroke-width="0.3"/>
<rect x="487.90" y="412.90" width="3.70" height="4.76" fill="#eef0fb" stroke="#fff" stroke-width="0.3"/>
<rect x="487.90" y="417.66" width="3.70" height="4.76" fill="#eef0fb" stroke="#fff" stroke-width="0.3"/>
<rect x="487.90" y="422.42" width="3.70" height="4.76" fill="#eef0fb" stroke="#fff" stroke-width="0.3"/>
<rect x="487.90" y="427.17" width="3.70" height="4.76" fill="#eef0fb" stroke="#fff" stroke-width="0.3"/>
<rect x="487.90" y="431.93" width="3.70" height="4.76" fill="#eef0fb" stroke="#fff" stroke-width="0.3"/>
<rect x="487.90" y="436.69" width="3.70" height="4.76" fill="#eef0fb" stroke="#fff" stroke-width="0.3"/>
<rect x="487.90" y="441.45" width="3.70" height="4.76" fill="#eef0fb" stroke="#fff" stroke-width="0.3"/>
<rect x="487.90" y="446.21" width="3.70" height="4.76" fill="#eef0fb" stroke="#fff" stroke-width="0.3"/>
<rect x="487.90" y="450.97" width="3.70" height="4.76" fill="#eef0fb" stroke="#fff" stroke-width="0.3"/>
<rect x="487.90" y="455.73" width="3.70" height="4.76" fill="#eef0fb" stroke="#fff" stroke-width="0.3"/>
<rect x="487.90" y="460.48" width="3.70" height="4.76" fill="#eef0fb" stroke="#fff" stroke-width="0.3"/>
<rect x="487.90" y="465.24" width="3.70" height="4.76" fill="#eef0fb" stroke="#fff" stroke-width="0.3"/>
<rect x="519.60" y="412.90" width="3.70" height="4.76" fill="#eef0fb" stroke="#fff" stroke-width="0.3"/>
<rect x="519.60" y="417.66" width="3.70" height="4.76" fill="#eef0fb" stroke="#fff" stroke-width="0.3"/>
<rect x="519.60" y="422.42" width="3.70" height="4.76" fill="#eef0fb" stroke="#fff" stroke-width="0.3"/>
<rect x="519.60" y="427.17" width="3.70" height="4.76" fill="#eef0fb" stroke="#fff" stroke-width="0.3"/>
<rect x="519.60" y="431.93" width="3.70" height="4.76" fill="#eef0fb" stroke="#fff" stroke-width="0.3"/>
<rect x="519.60" y="436.69" width="3.70" height="4.76" fill="#eef0fb" stroke="#fff" stroke-width="0.3"/>
<rect x="519.60" y="441.45" width="3.70" height="4.76" fill="#eef0fb" stroke="#fff" stroke-width="0.3"/>
<rect x="519.60" y="446.21" width="3.70" height="4.76" fill="#eef0fb" stroke="#fff" stroke-width="0.3"/>
<rect x="519.60" y="450.97" width="3.70" height="4.76" fill="#eef0fb" stroke="#fff" stroke-width="0.3"/>
<rect x="519.60" y="455.73" width="3.70" height="4.76" fill="#eef0fb" stroke="#fff" stroke-width="0.3"/>
<rect x="519.60" y="460.48" width="3.70" height="4.76" fill="#eef0fb" stroke="#fff" stroke-width="0.3"/>
<rect x="519.60" y="465.24" width="3.70" height="4.76" fill="#eef0fb" stroke="#fff" stroke-width="0.3"/>
<rect x="528.80" y="412.90" width="3.70" height="4.76" fill="#eef0fb" stroke="#fff" stroke-width="0.3"/>
<rect x="528.80" y="417.66" width="3.70" height="4.76" fill="#eef0fb" stroke="#fff" stroke-width="0.3"/>
<rect x="528.80" y="422.42" width="3.70" height="4.76" fill="#eef0fb" stroke="#fff" stroke-width="0.3"/>
<rect x="528.80" y="427.17" width="3.70" height="4.76" fill="#eef0fb" stroke="#fff" stroke-width="0.3"/>
<rect x="528.80" y="431.93" width="3.70" height="4.76" fill="#eef0fb" stroke="#fff" stroke-width="0.3"/>
<rect x="528.80" y="436.69" width="3.70" height="4.76" fill="#eef0fb" stroke="#fff" stroke-width="0.3"/>
<rect x="528.80" y="441.45" width="3.70" height="4.76" fill="#eef0fb" stroke="#fff" stroke-width="0.3"/>
<rect x="528.80" y="446.21" width="3.70" height="4.76" fill="#eef0fb" stroke="#fff" stroke-width="0.3"/>
<rect x="528.80" y="450.97" width="3.70" height="4.76" fill="#eef0fb" stroke="#fff" stroke-width="0.3"/>
<rect x="528.80" y="455.73" width="3.70" height="4.76" fill="#eef0fb" stroke="#fff" stroke-width="0.3"/>
<rect x="528.80" y="460.48" width="3.70" height="4.76" fill="#eef0fb" stroke="#fff" stroke-width="0.3"/>
<rect x="528.80" y="465.24" width="3.70" height="4.76" fill="#eef0fb" stroke="#fff" stroke-width="0.3"/>
<rect x="556.00" y="412.90" width="3.90" height="4.76" fill="#eef0fb" stroke="#fff" stroke-width="0.3"/>
<rect x="556.00" y="417.66" width="3.90" height="4.76" fill="#eef0fb" stroke="#fff" stroke-width="0.3"/>
<rect x="556.00" y="422.42" width="3.90" height="4.76" fill="#eef0fb" stroke="#fff" stroke-width="0.3"/>
<rect x="556.00" y="427.17" width="3.90" height="4.76" fill="#eef0fb" stroke="#fff" stroke-width="0.3"/>
<rect x="556.00" y="431.93" width="3.90" height="4.76" fill="#eef0fb" stroke="#fff" stroke-width="0.3"/>
<rect x="556.00" y="436.69" width="3.90" height="4.76" fill="#eef0fb" stroke="#fff" stroke-width="0.3"/>
<rect x="556.00" y="441.45" width="3.90" height="4.76" fill="#eef0fb" stroke="#fff" stroke-width="0.3"/>
<rect x="556.00" y="446.21" width="3.90" height="4.76" fill="#eef0fb" stroke="#fff" stroke-width="0.3"/>
<rect x="556.00" y="450.97" width="3.90" height="4.76" fill="#eef0fb" stroke="#fff" stroke-width="0.3"/>
<rect x="556.00" y="455.73" width="3.90" height="4.76" fill="#eef0fb" stroke="#fff" stroke-width="0.3"/>
<rect x="556.00" y="460.48" width="3.90" height="4.76" fill="#eef0fb" stroke="#fff" stroke-width="0.3"/>
<rect x="556.00" y="465.24" width="3.90" height="4.76" fill="#eef0fb" stroke="#fff" stroke-width="0.3"/>
<rect x="574.60" y="412.90" width="4.10" height="4.76" fill="#eef0fb" stroke="#fff" stroke-width="0.3"/>
<rect x="574.60" y="417.66" width="4.10" height="4.76" fill="#eef0fb" stroke="#fff" stroke-width="0.3"/>
<rect x="574.60" y="422.42" width="4.10" height="4.76" fill="#eef0fb" stroke="#fff" stroke-width="0.3"/>
<rect x="574.60" y="427.17" width="4.10" height="4.76" fill="#eef0fb" stroke="#fff" stroke-width="0.3"/>
<rect x="574.60" y="431.93" width="4.10" height="4.76" fill="#eef0fb" stroke="#fff" stroke-width="0.3"/>
<rect x="574.60" y="436.69" width="4.10" height="4.76" fill="#eef0fb" stroke="#fff" stroke-width="0.3"/>
<rect x="574.60" y="441.45" width="4.10" height="4.76" fill="#eef0fb" stroke="#fff" stroke-width="0.3"/>
<rect x="574.60" y="446.21" width="4.10" height="4.76" fill="#eef0fb" stroke="#fff" stroke-width="0.3"/>
<rect x="574.60" y="450.97" width="4.10" height="4.76" fill="#eef0fb" stroke="#fff" stroke-width="0.3"/>
<rect x="574.60" y="455.73" width="4.10" height="4.76" fill="#eef0fb" stroke="#fff" stroke-width="0.3"/>
<rect x="574.60" y="460.48" width="4.10" height="4.76" fill="#eef0fb" stroke="#fff" stroke-width="0.3"/>
<rect x="574.60" y="465.24" width="4.10" height="4.76" fill="#eef0fb" stroke="#fff" stroke-width="0.3"/>
<rect x="597.20" y="412.90" width="4.10" height="4.76" fill="#d0c8f0" stroke="#fff" stroke-width="0.3"/>
<rect x="597.20" y="417.66" width="4.10" height="4.76" fill="#eef0fb" stroke="#fff" stroke-width="0.3"/>
<rect x="597.20" y="422.42" width="4.10" height="4.76" fill="#eef0fb" stroke="#fff" stroke-width="0.3"/>
<rect x="597.20" y="427.17" width="4.10" height="4.76" fill="#eef0fb" stroke="#fff" stroke-width="0.3"/>
<rect x="597.20" y="431.93" width="4.10" height="4.76" fill="#eef0fb" stroke="#fff" stroke-width="0.3"/>
<rect x="597.20" y="436.69" width="4.10" height="4.76" fill="#eef0fb" stroke="#fff" stroke-width="0.3"/>
<rect x="597.20" y="441.45" width="4.10" height="4.76" fill="#eef0fb" stroke="#fff" stroke-width="0.3"/>
<rect x="597.20" y="446.21" width="4.10" height="4.76" fill="#eef0fb" stroke="#fff" stroke-width="0.3"/>
<rect x="597.20" y="450.97" width="4.10" height="4.76" fill="#eef0fb" stroke="#fff" stroke-width="0.3"/>
<rect x="597.20" y="455.73" width="4.10" height="4.76" fill="#eef0fb" stroke="#fff" stroke-width="0.3"/>
<rect x="597.20" y="460.48" width="4.10" height="4.76" fill="#eef0fb" stroke="#fff" stroke-width="0.3"/>
<rect x="597.20" y="465.24" width="4.10" height="4.76" fill="#eef0fb" stroke="#fff" stroke-width="0.3"/>
<rect x="620.00" y="412.90" width="3.90" height="4.76" fill="#c8c0ee" stroke="#fff" stroke-width="0.3"/>
<rect x="620.00" y="417.66" width="3.90" height="4.76" fill="#dcd8f4" stroke="#fff" stroke-width="0.3"/>
<rect x="620.00" y="422.42" width="3.90" height="4.76" fill="#dcd8f4" stroke="#fff" stroke-width="0.3"/>
<rect x="620.00" y="427.17" width="3.90" height="4.76" fill="#dcd8f4" stroke="#fff" stroke-width="0.3"/>
<rect x="620.00" y="431.93" width="3.90" height="4.76" fill="#dcd8f4" stroke="#fff" stroke-width="0.3"/>
<rect x="620.00" y="436.69" width="3.90" height="4.76" fill="#eef0fb" stroke="#fff" stroke-width="0.3"/>
<rect x="620.00" y="441.45" width="3.90" height="4.76" fill="#eef0fb" stroke="#fff" stroke-width="0.3"/>
<rect x="620.00" y="446.21" width="3.90" height="4.76" fill="#eef0fb" stroke="#fff" stroke-width="0.3"/>
<rect x="620.00" y="450.97" width="3.90" height="4.76" fill="#eef0fb" stroke="#fff" stroke-width="0.3"/>
<rect x="620.00" y="455.73" width="3.90" height="4.76" fill="#eef0fb" stroke="#fff" stroke-width="0.3"/>
<rect x="620.00" y="460.48" width="3.90" height="4.76" fill="#eef0fb" stroke="#fff" stroke-width="0.3"/>
<rect x="620.00" y="465.24" width="3.90" height="4.76" fill="#eef0fb" stroke="#fff" stroke-width="0.3"/>
<rect x="634.10" y="412.90" width="3.90" height="4.76" fill="#eef0fb" stroke="#fff" stroke-width="0.3"/>
<rect x="634.10" y="417.66" width="3.90" height="4.76" fill="#eef0fb" stroke="#fff" stroke-width="0.3"/>
<rect x="634.10" y="422.42" width="3.90" height="4.76" fill="#eef0fb" stroke="#fff" stroke-width="0.3"/>
<rect x="634.10" y="427.17" width="3.90" height="4.76" fill="#eef0fb" stroke="#fff" stroke-width="0.3"/>
<rect x="634.10" y="431.93" width="3.90" height="4.76" fill="#eef0fb" stroke="#fff" stroke-width="0.3"/>
<rect x="634.10" y="436.69" width="3.90" height="4.76" fill="#eef0fb" stroke="#fff" stroke-width="0.3"/>
<rect x="634.10" y="441.45" width="3.90" height="4.76" fill="#eef0fb" stroke="#fff" stroke-width="0.3"/>
<rect x="634.10" y="446.21" width="3.90" height="4.76" fill="#eef0fb" stroke="#fff" stroke-width="0.3"/>
<rect x="634.10" y="450.97" width="3.90" height="4.76" fill="#eef0fb" stroke="#fff" stroke-width="0.3"/>
<rect x="634.10" y="455.73" width="3.90" height="4.76" fill="#eef0fb" stroke="#fff" stroke-width="0.3"/>
<rect x="634.10" y="460.48" width="3.90" height="4.76" fill="#eef0fb" stroke="#fff" stroke-width="0.3"/>
<rect x="634.10" y="465.24" width="3.90" height="4.76" fill="#eef0fb" stroke="#fff" stroke-width="0.3"/>
<rect x="401.50" y="412.90" width="257.90" height="57.10" fill="none" stroke="#c4c4c4" stroke-width="0.8"/>
<line x1="402.50" y1="441.95" x2="659.40" y2="441.95" stroke="#222" stroke-width="1.0" stroke-dasharray="4,1.1"/>
<line x1="425.60" y1="470.00" x2="425.60" y2="471.60" stroke="#888" stroke-width="0.6"/>
<text x="425.60" y="479.12" font-size="7.0" text-anchor="middle" fill="#3a3a3a" stroke="#3a3a3a" stroke-width="0.14">170</text>
<line x1="471.20" y1="470.00" x2="471.20" y2="471.60" stroke="#888" stroke-width="0.6"/>
<text x="471.20" y="479.12" font-size="7.0" text-anchor="middle" fill="#3a3a3a" stroke="#3a3a3a" stroke-width="0.14">180</text>
<line x1="517.00" y1="470.00" x2="517.00" y2="471.60" stroke="#888" stroke-width="0.6"/>
<text x="517.00" y="479.12" font-size="7.0" text-anchor="middle" fill="#3a3a3a" stroke="#3a3a3a" stroke-width="0.14">190</text>
<line x1="562.80" y1="470.00" x2="562.80" y2="471.60" stroke="#888" stroke-width="0.6"/>
<text x="562.80" y="479.12" font-size="7.0" text-anchor="middle" fill="#3a3a3a" stroke="#3a3a3a" stroke-width="0.14">200</text>
<line x1="608.00" y1="470.00" x2="608.00" y2="471.60" stroke="#888" stroke-width="0.6"/>
<text x="608.00" y="479.12" font-size="7.0" text-anchor="middle" fill="#3a3a3a" stroke="#3a3a3a" stroke-width="0.14">210</text>
<line x1="654.50" y1="470.00" x2="654.50" y2="471.60" stroke="#888" stroke-width="0.6"/>
<text x="654.50" y="479.12" font-size="7.0" text-anchor="middle" fill="#3a3a3a" stroke="#3a3a3a" stroke-width="0.14">220</text>
<text x="662.60" y="430.37" font-size="8.8" text-anchor="start" fill="#1a1a1a" stroke="#1a1a1a" stroke-width="0.14">no filt</text>
<text x="662.60" y="458.67" font-size="8.8" text-anchor="start" fill="#1a1a1a" stroke="#1a1a1a" stroke-width="0.14">filt</text>
<rect x="414.30" y="479.60" width="4.10" height="4.72" fill="#cec6f0" stroke="#fff" stroke-width="0.3"/>
<rect x="414.30" y="484.32" width="4.10" height="4.72" fill="#eef0fb" stroke="#fff" stroke-width="0.3"/>
<rect x="414.30" y="489.03" width="4.10" height="4.72" fill="#eef0fb" stroke="#fff" stroke-width="0.3"/>
<rect x="414.30" y="493.75" width="4.10" height="4.72" fill="#eef0fb" stroke="#fff" stroke-width="0.3"/>
<rect x="414.30" y="498.47" width="4.10" height="4.72" fill="#eef0fb" stroke="#fff" stroke-width="0.3"/>
<rect x="414.30" y="503.18" width="4.10" height="4.72" fill="#eef0fb" stroke="#fff" stroke-width="0.3"/>
<rect x="414.30" y="507.90" width="4.10" height="4.72" fill="#eef0fb" stroke="#fff" stroke-width="0.3"/>
<rect x="414.30" y="512.62" width="4.10" height="4.72" fill="#eef0fb" stroke="#fff" stroke-width="0.3"/>
<rect x="414.30" y="517.33" width="4.10" height="4.72" fill="#eef0fb" stroke="#fff" stroke-width="0.3"/>
<rect x="414.30" y="522.05" width="4.10" height="4.72" fill="#eef0fb" stroke="#fff" stroke-width="0.3"/>
<rect x="414.30" y="526.77" width="4.10" height="4.72" fill="#eef0fb" stroke="#fff" stroke-width="0.3"/>
<rect x="414.30" y="531.48" width="4.10" height="4.72" fill="#eef0fb" stroke="#fff" stroke-width="0.3"/>
<rect x="464.80" y="479.60" width="4.10" height="4.72" fill="#d4cef2" stroke="#fff" stroke-width="0.3"/>
<rect x="464.80" y="484.32" width="4.10" height="4.72" fill="#eef0fb" stroke="#fff" stroke-width="0.3"/>
<rect x="464.80" y="489.03" width="4.10" height="4.72" fill="#eef0fb" stroke="#fff" stroke-width="0.3"/>
<rect x="464.80" y="493.75" width="4.10" height="4.72" fill="#eef0fb" stroke="#fff" stroke-width="0.3"/>
<rect x="464.80" y="498.47" width="4.10" height="4.72" fill="#eef0fb" stroke="#fff" stroke-width="0.3"/>
<rect x="464.80" y="503.18" width="4.10" height="4.72" fill="#eef0fb" stroke="#fff" stroke-width="0.3"/>
<rect x="464.80" y="507.90" width="4.10" height="4.72" fill="#eef0fb" stroke="#fff" stroke-width="0.3"/>
<rect x="464.80" y="512.62" width="4.10" height="4.72" fill="#eef0fb" stroke="#fff" stroke-width="0.3"/>
<rect x="464.80" y="517.33" width="4.10" height="4.72" fill="#eef0fb" stroke="#fff" stroke-width="0.3"/>
<rect x="464.80" y="522.05" width="4.10" height="4.72" fill="#eef0fb" stroke="#fff" stroke-width="0.3"/>
<rect x="464.80" y="526.77" width="4.10" height="4.72" fill="#eef0fb" stroke="#fff" stroke-width="0.3"/>
<rect x="464.80" y="531.48" width="4.10" height="4.72" fill="#eef0fb" stroke="#fff" stroke-width="0.3"/>
<rect x="474.00" y="479.60" width="4.10" height="4.72" fill="#d4cef2" stroke="#fff" stroke-width="0.3"/>
<rect x="474.00" y="484.32" width="4.10" height="4.72" fill="#eef0fb" stroke="#fff" stroke-width="0.3"/>
<rect x="474.00" y="489.03" width="4.10" height="4.72" fill="#eef0fb" stroke="#fff" stroke-width="0.3"/>
<rect x="474.00" y="493.75" width="4.10" height="4.72" fill="#d4cef2" stroke="#fff" stroke-width="0.3"/>
<rect x="474.00" y="498.47" width="4.10" height="4.72" fill="#eef0fb" stroke="#fff" stroke-width="0.3"/>
<rect x="474.00" y="503.18" width="4.10" height="4.72" fill="#eef0fb" stroke="#fff" stroke-width="0.3"/>
<rect x="474.00" y="507.90" width="4.10" height="4.72" fill="#eef0fb" stroke="#fff" stroke-width="0.3"/>
<rect x="474.00" y="512.62" width="4.10" height="4.72" fill="#eef0fb" stroke="#fff" stroke-width="0.3"/>
<rect x="474.00" y="517.33" width="4.10" height="4.72" fill="#eef0fb" stroke="#fff" stroke-width="0.3"/>
<rect x="474.00" y="522.05" width="4.10" height="4.72" fill="#eef0fb" stroke="#fff" stroke-width="0.3"/>
<rect x="474.00" y="526.77" width="4.10" height="4.72" fill="#eef0fb" stroke="#fff" stroke-width="0.3"/>
<rect x="474.00" y="531.48" width="4.10" height="4.72" fill="#eef0fb" stroke="#fff" stroke-width="0.3"/>
<rect x="500.70" y="479.60" width="4.40" height="4.72" fill="#eef0fb" stroke="#fff" stroke-width="0.3"/>
<rect x="500.70" y="484.32" width="4.40" height="4.72" fill="#c8c0ee" stroke="#fff" stroke-width="0.3"/>
<rect x="500.70" y="489.03" width="4.40" height="4.72" fill="#d0c8f0" stroke="#fff" stroke-width="0.3"/>
<rect x="500.70" y="493.75" width="4.40" height="4.72" fill="#b8a8e8" stroke="#fff" stroke-width="0.3"/>
<rect x="500.70" y="498.47" width="4.40" height="4.72" fill="#dcdaf6" stroke="#fff" stroke-width="0.3"/>
<rect x="500.70" y="503.18" width="4.40" height="4.72" fill="#eef0fb" stroke="#fff" stroke-width="0.3"/>
<rect x="500.70" y="507.90" width="4.40" height="4.72" fill="#eef0fb" stroke="#fff" stroke-width="0.3"/>
<rect x="500.70" y="512.62" width="4.40" height="4.72" fill="#dcd8f4" stroke="#fff" stroke-width="0.3"/>
<rect x="500.70" y="517.33" width="4.40" height="4.72" fill="#e4e0f6" stroke="#fff" stroke-width="0.3"/>
<rect x="500.70" y="522.05" width="4.40" height="4.72" fill="#c8c0ee" stroke="#fff" stroke-width="0.3"/>
<rect x="500.70" y="526.77" width="4.40" height="4.72" fill="#e8e8f8" stroke="#fff" stroke-width="0.3"/>
<rect x="500.70" y="531.48" width="4.40" height="4.72" fill="#eef0fb" stroke="#fff" stroke-width="0.3"/>
<rect x="519.70" y="479.60" width="3.90" height="4.72" fill="#eaeaf9" stroke="#fff" stroke-width="0.3"/>
<rect x="519.70" y="484.32" width="3.90" height="4.72" fill="#eaeaf9" stroke="#fff" stroke-width="0.3"/>
<rect x="519.70" y="489.03" width="3.90" height="4.72" fill="#eaeaf9" stroke="#fff" stroke-width="0.3"/>
<rect x="519.70" y="493.75" width="3.90" height="4.72" fill="#eaeaf9" stroke="#fff" stroke-width="0.3"/>
<rect x="519.70" y="498.47" width="3.90" height="4.72" fill="#eaeaf9" stroke="#fff" stroke-width="0.3"/>
<rect x="519.70" y="503.18" width="3.90" height="4.72" fill="#eaeaf9" stroke="#fff" stroke-width="0.3"/>
<rect x="519.70" y="507.90" width="3.90" height="4.72" fill="#eaeaf9" stroke="#fff" stroke-width="0.3"/>
<rect x="519.70" y="512.62" width="3.90" height="4.72" fill="#eaeaf9" stroke="#fff" stroke-width="0.3"/>
<rect x="519.70" y="517.33" width="3.90" height="4.72" fill="#eaeaf9" stroke="#fff" stroke-width="0.3"/>
<rect x="519.70" y="522.05" width="3.90" height="4.72" fill="#eaeaf9" stroke="#fff" stroke-width="0.3"/>
<rect x="519.70" y="526.77" width="3.90" height="4.72" fill="#eaeaf9" stroke="#fff" stroke-width="0.3"/>
<rect x="519.70" y="531.48" width="3.90" height="4.72" fill="#eaeaf9" stroke="#fff" stroke-width="0.3"/>
<rect x="523.60" y="479.60" width="4.90" height="4.72" fill="#dcd8f4" stroke="#fff" stroke-width="0.3"/>
<rect x="523.60" y="484.32" width="4.90" height="4.72" fill="#b0a0e0" stroke="#fff" stroke-width="0.3"/>
<rect x="523.60" y="489.03" width="4.90" height="4.72" fill="#c8bcec" stroke="#fff" stroke-width="0.3"/>
<rect x="523.60" y="493.75" width="4.90" height="4.72" fill="#a898e0" stroke="#fff" stroke-width="0.3"/>
<rect x="523.60" y="498.47" width="4.90" height="4.72" fill="#d0c8f0" stroke="#fff" stroke-width="0.3"/>
<rect x="523.60" y="503.18" width="4.90" height="4.72" fill="#b8a8e8" stroke="#fff" stroke-width="0.3"/>
<rect x="523.60" y="507.90" width="4.90" height="4.72" fill="#eaeaf9" stroke="#fff" stroke-width="0.3"/>
<rect x="523.60" y="512.62" width="4.90" height="4.72" fill="#d0c8f0" stroke="#fff" stroke-width="0.3"/>
<rect x="523.60" y="517.33" width="4.90" height="4.72" fill="#dcd8f4" stroke="#fff" stroke-width="0.3"/>
<rect x="523.60" y="522.05" width="4.90" height="4.72" fill="#dcd8f4" stroke="#fff" stroke-width="0.3"/>
<rect x="523.60" y="526.77" width="4.90" height="4.72" fill="#dcd8f4" stroke="#fff" stroke-width="0.3"/>
<rect x="523.60" y="531.48" width="4.90" height="4.72" fill="#dcd8f4" stroke="#fff" stroke-width="0.3"/>
<rect x="528.50" y="479.60" width="4.60" height="4.72" fill="#dcdaf6" stroke="#fff" stroke-width="0.3"/>
<rect x="528.50" y="484.32" width="4.60" height="4.72" fill="#c8c0ee" stroke="#fff" stroke-width="0.3"/>
<rect x="528.50" y="489.03" width="4.60" height="4.72" fill="#d4ccf2" stroke="#fff" stroke-width="0.3"/>
<rect x="528.50" y="493.75" width="4.60" height="4.72" fill="#c8c0ee" stroke="#fff" stroke-width="0.3"/>
<rect x="528.50" y="498.47" width="4.60" height="4.72" fill="#d4ccf2" stroke="#fff" stroke-width="0.3"/>
<rect x="528.50" y="503.18" width="4.60" height="4.72" fill="#d0c8f0" stroke="#fff" stroke-width="0.3"/>
<rect x="528.50" y="507.90" width="4.60" height="4.72" fill="#e8e8f8" stroke="#fff" stroke-width="0.3"/>
<rect x="528.50" y="512.62" width="4.60" height="4.72" fill="#e8e8f8" stroke="#fff" stroke-width="0.3"/>
<rect x="528.50" y="517.33" width="4.60" height="4.72" fill="#e8e8f8" stroke="#fff" stroke-width="0.3"/>
<rect x="528.50" y="522.05" width="4.60" height="4.72" fill="#e8e8f8" stroke="#fff" stroke-width="0.3"/>
<rect x="528.50" y="526.77" width="4.60" height="4.72" fill="#e8e8f8" stroke="#fff" stroke-width="0.3"/>
<rect x="528.50" y="531.48" width="4.60" height="4.72" fill="#e8e8f8" stroke="#fff" stroke-width="0.3"/>
<rect x="538.00" y="479.60" width="4.30" height="4.72" fill="#eef0fb" stroke="#fff" stroke-width="0.3"/>
<rect x="538.00" y="484.32" width="4.30" height="4.72" fill="#8a70d0" stroke="#fff" stroke-width="0.3"/>
<rect x="538.00" y="489.03" width="4.30" height="4.72" fill="#a898e0" stroke="#fff" stroke-width="0.3"/>
<rect x="538.00" y="493.75" width="4.30" height="4.72" fill="#7f68cc" stroke="#fff" stroke-width="0.3"/>
<rect x="538.00" y="498.47" width="4.30" height="4.72" fill="#b8a8e8" stroke="#fff" stroke-width="0.3"/>
<rect x="538.00" y="503.18" width="4.30" height="4.72" fill="#8068cc" stroke="#fff" stroke-width="0.3"/>
<rect x="538.00" y="507.90" width="4.30" height="4.72" fill="#eef0fb" stroke="#fff" stroke-width="0.3"/>
<rect x="538.00" y="512.62" width="4.30" height="4.72" fill="#9c88d8" stroke="#fff" stroke-width="0.3"/>
<rect x="538.00" y="517.33" width="4.30" height="4.72" fill="#b0a0e4" stroke="#fff" stroke-width="0.3"/>
<rect x="538.00" y="522.05" width="4.30" height="4.72" fill="#8a70d0" stroke="#fff" stroke-width="0.3"/>
<rect x="538.00" y="526.77" width="4.30" height="4.72" fill="#c0b4ec" stroke="#fff" stroke-width="0.3"/>
<rect x="538.00" y="531.48" width="4.30" height="4.72" fill="#7c64c8" stroke="#fff" stroke-width="0.3"/>
<rect x="583.60" y="479.60" width="4.10" height="4.72" fill="#eef0fb" stroke="#fff" stroke-width="0.3"/>
<rect x="583.60" y="484.32" width="4.10" height="4.72" fill="#eef0fb" stroke="#fff" stroke-width="0.3"/>
<rect x="583.60" y="489.03" width="4.10" height="4.72" fill="#eef0fb" stroke="#fff" stroke-width="0.3"/>
<rect x="583.60" y="493.75" width="4.10" height="4.72" fill="#eef0fb" stroke="#fff" stroke-width="0.3"/>
<rect x="583.60" y="498.47" width="4.10" height="4.72" fill="#eef0fb" stroke="#fff" stroke-width="0.3"/>
<rect x="583.60" y="503.18" width="4.10" height="4.72" fill="#eef0fb" stroke="#fff" stroke-width="0.3"/>
<rect x="583.60" y="507.90" width="4.10" height="4.72" fill="#eef0fb" stroke="#fff" stroke-width="0.3"/>
<rect x="583.60" y="512.62" width="4.10" height="4.72" fill="#eef0fb" stroke="#fff" stroke-width="0.3"/>
<rect x="583.60" y="517.33" width="4.10" height="4.72" fill="#eef0fb" stroke="#fff" stroke-width="0.3"/>
<rect x="583.60" y="522.05" width="4.10" height="4.72" fill="#eef0fb" stroke="#fff" stroke-width="0.3"/>
<rect x="583.60" y="526.77" width="4.10" height="4.72" fill="#eef0fb" stroke="#fff" stroke-width="0.3"/>
<rect x="583.60" y="531.48" width="4.10" height="4.72" fill="#eef0fb" stroke="#fff" stroke-width="0.3"/>
<rect x="606.30" y="479.60" width="4.00" height="4.72" fill="#eef0fb" stroke="#fff" stroke-width="0.3"/>
<rect x="606.30" y="484.32" width="4.00" height="4.72" fill="#eef0fb" stroke="#fff" stroke-width="0.3"/>
<rect x="606.30" y="489.03" width="4.00" height="4.72" fill="#eef0fb" stroke="#fff" stroke-width="0.3"/>
<rect x="606.30" y="493.75" width="4.00" height="4.72" fill="#eef0fb" stroke="#fff" stroke-width="0.3"/>
<rect x="606.30" y="498.47" width="4.00" height="4.72" fill="#eef0fb" stroke="#fff" stroke-width="0.3"/>
<rect x="606.30" y="503.18" width="4.00" height="4.72" fill="#eef0fb" stroke="#fff" stroke-width="0.3"/>
<rect x="606.30" y="507.90" width="4.00" height="4.72" fill="#eef0fb" stroke="#fff" stroke-width="0.3"/>
<rect x="606.30" y="512.62" width="4.00" height="4.72" fill="#eef0fb" stroke="#fff" stroke-width="0.3"/>
<rect x="606.30" y="517.33" width="4.00" height="4.72" fill="#eef0fb" stroke="#fff" stroke-width="0.3"/>
<rect x="606.30" y="522.05" width="4.00" height="4.72" fill="#eef0fb" stroke="#fff" stroke-width="0.3"/>
<rect x="606.30" y="526.77" width="4.00" height="4.72" fill="#eef0fb" stroke="#fff" stroke-width="0.3"/>
<rect x="606.30" y="531.48" width="4.00" height="4.72" fill="#eef0fb" stroke="#fff" stroke-width="0.3"/>
<rect x="620.00" y="479.60" width="3.90" height="4.72" fill="#eef0fb" stroke="#fff" stroke-width="0.3"/>
<rect x="620.00" y="484.32" width="3.90" height="4.72" fill="#eef0fb" stroke="#fff" stroke-width="0.3"/>
<rect x="620.00" y="489.03" width="3.90" height="4.72" fill="#eef0fb" stroke="#fff" stroke-width="0.3"/>
<rect x="620.00" y="493.75" width="3.90" height="4.72" fill="#eef0fb" stroke="#fff" stroke-width="0.3"/>
<rect x="620.00" y="498.47" width="3.90" height="4.72" fill="#eef0fb" stroke="#fff" stroke-width="0.3"/>
<rect x="620.00" y="503.18" width="3.90" height="4.72" fill="#eef0fb" stroke="#fff" stroke-width="0.3"/>
<rect x="620.00" y="507.90" width="3.90" height="4.72" fill="#eef0fb" stroke="#fff" stroke-width="0.3"/>
<rect x="620.00" y="512.62" width="3.90" height="4.72" fill="#eef0fb" stroke="#fff" stroke-width="0.3"/>
<rect x="620.00" y="517.33" width="3.90" height="4.72" fill="#eef0fb" stroke="#fff" stroke-width="0.3"/>
<rect x="620.00" y="522.05" width="3.90" height="4.72" fill="#eef0fb" stroke="#fff" stroke-width="0.3"/>
<rect x="620.00" y="526.77" width="3.90" height="4.72" fill="#eef0fb" stroke="#fff" stroke-width="0.3"/>
<rect x="620.00" y="531.48" width="3.90" height="4.72" fill="#eef0fb" stroke="#fff" stroke-width="0.3"/>
<rect x="647.70" y="479.60" width="4.50" height="4.72" fill="#d4cef2" stroke="#fff" stroke-width="0.3"/>
<rect x="647.70" y="484.32" width="4.50" height="4.72" fill="#e0dcf6" stroke="#fff" stroke-width="0.3"/>
<rect x="647.70" y="489.03" width="4.50" height="4.72" fill="#e0dcf6" stroke="#fff" stroke-width="0.3"/>
<rect x="647.70" y="493.75" width="4.50" height="4.72" fill="#e0dcf6" stroke="#fff" stroke-width="0.3"/>
<rect x="647.70" y="498.47" width="4.50" height="4.72" fill="#e0dcf6" stroke="#fff" stroke-width="0.3"/>
<rect x="647.70" y="503.18" width="4.50" height="4.72" fill="#e0dcf6" stroke="#fff" stroke-width="0.3"/>
<rect x="647.70" y="507.90" width="4.50" height="4.72" fill="#eef0fb" stroke="#fff" stroke-width="0.3"/>
<rect x="647.70" y="512.62" width="4.50" height="4.72" fill="#eef0fb" stroke="#fff" stroke-width="0.3"/>
<rect x="647.70" y="517.33" width="4.50" height="4.72" fill="#eef0fb" stroke="#fff" stroke-width="0.3"/>
<rect x="647.70" y="522.05" width="4.50" height="4.72" fill="#eef0fb" stroke="#fff" stroke-width="0.3"/>
<rect x="647.70" y="526.77" width="4.50" height="4.72" fill="#eef0fb" stroke="#fff" stroke-width="0.3"/>
<rect x="647.70" y="531.48" width="4.50" height="4.72" fill="#eef0fb" stroke="#fff" stroke-width="0.3"/>
<rect x="652.20" y="479.60" width="4.50" height="4.72" fill="#ccc4f0" stroke="#fff" stroke-width="0.3"/>
<rect x="652.20" y="484.32" width="4.50" height="4.72" fill="#e0dcf6" stroke="#fff" stroke-width="0.3"/>
<rect x="652.20" y="489.03" width="4.50" height="4.72" fill="#e0dcf6" stroke="#fff" stroke-width="0.3"/>
<rect x="652.20" y="493.75" width="4.50" height="4.72" fill="#e0dcf6" stroke="#fff" stroke-width="0.3"/>
<rect x="652.20" y="498.47" width="4.50" height="4.72" fill="#e0dcf6" stroke="#fff" stroke-width="0.3"/>
<rect x="652.20" y="503.18" width="4.50" height="4.72" fill="#e0dcf6" stroke="#fff" stroke-width="0.3"/>
<rect x="652.20" y="507.90" width="4.50" height="4.72" fill="#eef0fb" stroke="#fff" stroke-width="0.3"/>
<rect x="652.20" y="512.62" width="4.50" height="4.72" fill="#eef0fb" stroke="#fff" stroke-width="0.3"/>
<rect x="652.20" y="517.33" width="4.50" height="4.72" fill="#eef0fb" stroke="#fff" stroke-width="0.3"/>
<rect x="652.20" y="522.05" width="4.50" height="4.72" fill="#eef0fb" stroke="#fff" stroke-width="0.3"/>
<rect x="652.20" y="526.77" width="4.50" height="4.72" fill="#eef0fb" stroke="#fff" stroke-width="0.3"/>
<rect x="652.20" y="531.48" width="4.50" height="4.72" fill="#eef0fb" stroke="#fff" stroke-width="0.3"/>
<rect x="401.50" y="479.60" width="257.90" height="56.60" fill="none" stroke="#c4c4c4" stroke-width="0.8"/>
<line x1="402.50" y1="508.40" x2="659.40" y2="508.40" stroke="#222" stroke-width="1.0" stroke-dasharray="4,1.1"/>
<line x1="403.10" y1="536.20" x2="403.10" y2="537.80" stroke="#888" stroke-width="0.6"/>
<text x="403.10" y="545.32" font-size="7.0" text-anchor="middle" fill="#3a3a3a" stroke="#3a3a3a" stroke-width="0.14">220</text>
<line x1="448.70" y1="536.20" x2="448.70" y2="537.80" stroke="#888" stroke-width="0.6"/>
<text x="448.70" y="545.32" font-size="7.0" text-anchor="middle" fill="#3a3a3a" stroke="#3a3a3a" stroke-width="0.14">230</text>
<line x1="494.00" y1="536.20" x2="494.00" y2="537.80" stroke="#888" stroke-width="0.6"/>
<text x="494.00" y="545.32" font-size="7.0" text-anchor="middle" fill="#3a3a3a" stroke="#3a3a3a" stroke-width="0.14">240</text>
<line x1="540.20" y1="536.20" x2="540.20" y2="537.80" stroke="#888" stroke-width="0.6"/>
<text x="540.20" y="545.32" font-size="7.0" text-anchor="middle" fill="#3a3a3a" stroke="#3a3a3a" stroke-width="0.14">250</text>
<line x1="585.40" y1="536.20" x2="585.40" y2="537.80" stroke="#888" stroke-width="0.6"/>
<text x="585.40" y="545.32" font-size="7.0" text-anchor="middle" fill="#3a3a3a" stroke="#3a3a3a" stroke-width="0.14">260</text>
<line x1="631.20" y1="536.20" x2="631.20" y2="537.80" stroke="#888" stroke-width="0.6"/>
<text x="631.20" y="545.32" font-size="7.0" text-anchor="middle" fill="#3a3a3a" stroke="#3a3a3a" stroke-width="0.14">270</text>
<text x="662.60" y="497.07" font-size="8.8" text-anchor="start" fill="#1a1a1a" stroke="#1a1a1a" stroke-width="0.14">no filt</text>
<text x="662.60" y="525.37" font-size="8.8" text-anchor="start" fill="#1a1a1a" stroke="#1a1a1a" stroke-width="0.14">filt</text>
<rect x="438.30" y="546.10" width="4.30" height="4.74" fill="#dcd8f4" stroke="#fff" stroke-width="0.3"/>
<rect x="438.30" y="550.84" width="4.30" height="4.74" fill="#eef0fb" stroke="#fff" stroke-width="0.3"/>
<rect x="438.30" y="555.58" width="4.30" height="4.74" fill="#eef0fb" stroke="#fff" stroke-width="0.3"/>
<rect x="438.30" y="560.33" width="4.30" height="4.74" fill="#eef0fb" stroke="#fff" stroke-width="0.3"/>
<rect x="438.30" y="565.07" width="4.30" height="4.74" fill="#eef0fb" stroke="#fff" stroke-width="0.3"/>
<rect x="438.30" y="569.81" width="4.30" height="4.74" fill="#eef0fb" stroke="#fff" stroke-width="0.3"/>
<rect x="438.30" y="574.55" width="4.30" height="4.74" fill="#eef0fb" stroke="#fff" stroke-width="0.3"/>
<rect x="438.30" y="579.29" width="4.30" height="4.74" fill="#eef0fb" stroke="#fff" stroke-width="0.3"/>
<rect x="438.30" y="584.03" width="4.30" height="4.74" fill="#eef0fb" stroke="#fff" stroke-width="0.3"/>
<rect x="438.30" y="588.77" width="4.30" height="4.74" fill="#eef0fb" stroke="#fff" stroke-width="0.3"/>
<rect x="438.30" y="593.52" width="4.30" height="4.74" fill="#eef0fb" stroke="#fff" stroke-width="0.3"/>
<rect x="438.30" y="598.26" width="4.30" height="4.74" fill="#eef0fb" stroke="#fff" stroke-width="0.3"/>
<rect x="485.90" y="546.10" width="4.10" height="4.74" fill="#b8ace8" stroke="#fff" stroke-width="0.3"/>
<rect x="485.90" y="550.84" width="4.10" height="4.74" fill="#c0b4ec" stroke="#fff" stroke-width="0.3"/>
<rect x="485.90" y="555.58" width="4.10" height="4.74" fill="#b4a8e6" stroke="#fff" stroke-width="0.3"/>
<rect x="485.90" y="560.33" width="4.10" height="4.74" fill="#bcb0ea" stroke="#fff" stroke-width="0.3"/>
<rect x="485.90" y="565.07" width="4.10" height="4.74" fill="#b8ace8" stroke="#fff" stroke-width="0.3"/>
<rect x="485.90" y="569.81" width="4.10" height="4.74" fill="#c4b8ec" stroke="#fff" stroke-width="0.3"/>
<rect x="485.90" y="574.55" width="4.10" height="4.74" fill="#eef0fb" stroke="#fff" stroke-width="0.3"/>
<rect x="485.90" y="579.29" width="4.10" height="4.74" fill="#eef0fb" stroke="#fff" stroke-width="0.3"/>
<rect x="485.90" y="584.03" width="4.10" height="4.74" fill="#eef0fb" stroke="#fff" stroke-width="0.3"/>
<rect x="485.90" y="588.77" width="4.10" height="4.74" fill="#eef0fb" stroke="#fff" stroke-width="0.3"/>
<rect x="485.90" y="593.52" width="4.10" height="4.74" fill="#eef0fb" stroke="#fff" stroke-width="0.3"/>
<rect x="485.90" y="598.26" width="4.10" height="4.74" fill="#eef0fb" stroke="#fff" stroke-width="0.3"/>
<rect x="514.00" y="546.10" width="4.60" height="4.74" fill="#c8bef0" stroke="#fff" stroke-width="0.3"/>
<rect x="514.00" y="550.84" width="4.60" height="4.74" fill="#e0dcf6" stroke="#fff" stroke-width="0.3"/>
<rect x="514.00" y="555.58" width="4.60" height="4.74" fill="#e0dcf6" stroke="#fff" stroke-width="0.3"/>
<rect x="514.00" y="560.33" width="4.60" height="4.74" fill="#e0dcf6" stroke="#fff" stroke-width="0.3"/>
<rect x="514.00" y="565.07" width="4.60" height="4.74" fill="#e0dcf6" stroke="#fff" stroke-width="0.3"/>
<rect x="514.00" y="569.81" width="4.60" height="4.74" fill="#e0dcf6" stroke="#fff" stroke-width="0.3"/>
<rect x="514.00" y="574.55" width="4.60" height="4.74" fill="#eef0fb" stroke="#fff" stroke-width="0.3"/>
<rect x="514.00" y="579.29" width="4.60" height="4.74" fill="#eef0fb" stroke="#fff" stroke-width="0.3"/>
<rect x="514.00" y="584.03" width="4.60" height="4.74" fill="#eef0fb" stroke="#fff" stroke-width="0.3"/>
<rect x="514.00" y="588.77" width="4.60" height="4.74" fill="#eef0fb" stroke="#fff" stroke-width="0.3"/>
<rect x="514.00" y="593.52" width="4.60" height="4.74" fill="#eef0fb" stroke="#fff" stroke-width="0.3"/>
<rect x="514.00" y="598.26" width="4.60" height="4.74" fill="#eef0fb" stroke="#fff" stroke-width="0.3"/>
<rect x="552.00" y="546.10" width="4.50" height="4.74" fill="#d4ccf2" stroke="#fff" stroke-width="0.3"/>
<rect x="552.00" y="550.84" width="4.50" height="4.74" fill="#eef0fb" stroke="#fff" stroke-width="0.3"/>
<rect x="552.00" y="555.58" width="4.50" height="4.74" fill="#eef0fb" stroke="#fff" stroke-width="0.3"/>
<rect x="552.00" y="560.33" width="4.50" height="4.74" fill="#eef0fb" stroke="#fff" stroke-width="0.3"/>
<rect x="552.00" y="565.07" width="4.50" height="4.74" fill="#eef0fb" stroke="#fff" stroke-width="0.3"/>
<rect x="552.00" y="569.81" width="4.50" height="4.74" fill="#eef0fb" stroke="#fff" stroke-width="0.3"/>
<rect x="552.00" y="574.55" width="4.50" height="4.74" fill="#eef0fb" stroke="#fff" stroke-width="0.3"/>
<rect x="552.00" y="579.29" width="4.50" height="4.74" fill="#eef0fb" stroke="#fff" stroke-width="0.3"/>
<rect x="552.00" y="584.03" width="4.50" height="4.74" fill="#eef0fb" stroke="#fff" stroke-width="0.3"/>
<rect x="552.00" y="588.77" width="4.50" height="4.74" fill="#eef0fb" stroke="#fff" stroke-width="0.3"/>
<rect x="552.00" y="593.52" width="4.50" height="4.74" fill="#eef0fb" stroke="#fff" stroke-width="0.3"/>
<rect x="552.00" y="598.26" width="4.50" height="4.74" fill="#eef0fb" stroke="#fff" stroke-width="0.3"/>
<rect x="571.20" y="546.10" width="4.50" height="4.74" fill="#d0c8f0" stroke="#fff" stroke-width="0.3"/>
<rect x="571.20" y="550.84" width="4.50" height="4.74" fill="#eef0fb" stroke="#fff" stroke-width="0.3"/>
<rect x="571.20" y="555.58" width="4.50" height="4.74" fill="#eef0fb" stroke="#fff" stroke-width="0.3"/>
<rect x="571.20" y="560.33" width="4.50" height="4.74" fill="#eef0fb" stroke="#fff" stroke-width="0.3"/>
<rect x="571.20" y="565.07" width="4.50" height="4.74" fill="#eef0fb" stroke="#fff" stroke-width="0.3"/>
<rect x="571.20" y="569.81" width="4.50" height="4.74" fill="#eef0fb" stroke="#fff" stroke-width="0.3"/>
<rect x="571.20" y="574.55" width="4.50" height="4.74" fill="#eef0fb" stroke="#fff" stroke-width="0.3"/>
<rect x="571.20" y="579.29" width="4.50" height="4.74" fill="#eef0fb" stroke="#fff" stroke-width="0.3"/>
<rect x="571.20" y="584.03" width="4.50" height="4.74" fill="#eef0fb" stroke="#fff" stroke-width="0.3"/>
<rect x="571.20" y="588.77" width="4.50" height="4.74" fill="#eef0fb" stroke="#fff" stroke-width="0.3"/>
<rect x="571.20" y="593.52" width="4.50" height="4.74" fill="#eef0fb" stroke="#fff" stroke-width="0.3"/>
<rect x="571.20" y="598.26" width="4.50" height="4.74" fill="#eef0fb" stroke="#fff" stroke-width="0.3"/>
<rect x="580.50" y="546.10" width="4.50" height="4.74" fill="#c8c0ee" stroke="#fff" stroke-width="0.3"/>
<rect x="580.50" y="550.84" width="4.50" height="4.74" fill="#eef0fb" stroke="#fff" stroke-width="0.3"/>
<rect x="580.50" y="555.58" width="4.50" height="4.74" fill="#eef0fb" stroke="#fff" stroke-width="0.3"/>
<rect x="580.50" y="560.33" width="4.50" height="4.74" fill="#eef0fb" stroke="#fff" stroke-width="0.3"/>
<rect x="580.50" y="565.07" width="4.50" height="4.74" fill="#eef0fb" stroke="#fff" stroke-width="0.3"/>
<rect x="580.50" y="569.81" width="4.50" height="4.74" fill="#eef0fb" stroke="#fff" stroke-width="0.3"/>
<rect x="580.50" y="574.55" width="4.50" height="4.74" fill="#dcd8f4" stroke="#fff" stroke-width="0.3"/>
<rect x="580.50" y="579.29" width="4.50" height="4.74" fill="#eef0fb" stroke="#fff" stroke-width="0.3"/>
<rect x="580.50" y="584.03" width="4.50" height="4.74" fill="#eef0fb" stroke="#fff" stroke-width="0.3"/>
<rect x="580.50" y="588.77" width="4.50" height="4.74" fill="#eef0fb" stroke="#fff" stroke-width="0.3"/>
<rect x="580.50" y="593.52" width="4.50" height="4.74" fill="#eef0fb" stroke="#fff" stroke-width="0.3"/>
<rect x="580.50" y="598.26" width="4.50" height="4.74" fill="#eef0fb" stroke="#fff" stroke-width="0.3"/>
<rect x="609.30" y="546.10" width="4.40" height="4.74" fill="#b0a0e4" stroke="#fff" stroke-width="0.3"/>
<rect x="609.30" y="550.84" width="4.40" height="4.74" fill="#eef0fb" stroke="#fff" stroke-width="0.3"/>
<rect x="609.30" y="555.58" width="4.40" height="4.74" fill="#eef0fb" stroke="#fff" stroke-width="0.3"/>
<rect x="609.30" y="560.33" width="4.40" height="4.74" fill="#eef0fb" stroke="#fff" stroke-width="0.3"/>
<rect x="609.30" y="565.07" width="4.40" height="4.74" fill="#eef0fb" stroke="#fff" stroke-width="0.3"/>
<rect x="609.30" y="569.81" width="4.40" height="4.74" fill="#eef0fb" stroke="#fff" stroke-width="0.3"/>
<rect x="609.30" y="574.55" width="4.40" height="4.74" fill="#dcd8f4" stroke="#fff" stroke-width="0.3"/>
<rect x="609.30" y="579.29" width="4.40" height="4.74" fill="#eef0fb" stroke="#fff" stroke-width="0.3"/>
<rect x="609.30" y="584.03" width="4.40" height="4.74" fill="#eef0fb" stroke="#fff" stroke-width="0.3"/>
<rect x="609.30" y="588.77" width="4.40" height="4.74" fill="#eef0fb" stroke="#fff" stroke-width="0.3"/>
<rect x="609.30" y="593.52" width="4.40" height="4.74" fill="#eef0fb" stroke="#fff" stroke-width="0.3"/>
<rect x="609.30" y="598.26" width="4.40" height="4.74" fill="#eef0fb" stroke="#fff" stroke-width="0.3"/>
<rect x="618.90" y="546.10" width="4.10" height="4.74" fill="#b0a0e4" stroke="#fff" stroke-width="0.3"/>
<rect x="618.90" y="550.84" width="4.10" height="4.74" fill="#eef0fb" stroke="#fff" stroke-width="0.3"/>
<rect x="618.90" y="555.58" width="4.10" height="4.74" fill="#eef0fb" stroke="#fff" stroke-width="0.3"/>
<rect x="618.90" y="560.33" width="4.10" height="4.74" fill="#eef0fb" stroke="#fff" stroke-width="0.3"/>
<rect x="618.90" y="565.07" width="4.10" height="4.74" fill="#eef0fb" stroke="#fff" stroke-width="0.3"/>
<rect x="618.90" y="569.81" width="4.10" height="4.74" fill="#eef0fb" stroke="#fff" stroke-width="0.3"/>
<rect x="618.90" y="574.55" width="4.10" height="4.74" fill="#d0c8f0" stroke="#fff" stroke-width="0.3"/>
<rect x="618.90" y="579.29" width="4.10" height="4.74" fill="#eef0fb" stroke="#fff" stroke-width="0.3"/>
<rect x="618.90" y="584.03" width="4.10" height="4.74" fill="#eef0fb" stroke="#fff" stroke-width="0.3"/>
<rect x="618.90" y="588.77" width="4.10" height="4.74" fill="#eef0fb" stroke="#fff" stroke-width="0.3"/>
<rect x="618.90" y="593.52" width="4.10" height="4.74" fill="#eef0fb" stroke="#fff" stroke-width="0.3"/>
<rect x="618.90" y="598.26" width="4.10" height="4.74" fill="#eef0fb" stroke="#fff" stroke-width="0.3"/>
<rect x="638.20" y="546.10" width="4.30" height="4.74" fill="#c4b8ec" stroke="#fff" stroke-width="0.3"/>
<rect x="638.20" y="550.84" width="4.30" height="4.74" fill="#d8d2f4" stroke="#fff" stroke-width="0.3"/>
<rect x="638.20" y="555.58" width="4.30" height="4.74" fill="#e0dcf6" stroke="#fff" stroke-width="0.3"/>
<rect x="638.20" y="560.33" width="4.30" height="4.74" fill="#c8bef0" stroke="#fff" stroke-width="0.3"/>
<rect x="638.20" y="565.07" width="4.30" height="4.74" fill="#dcd8f4" stroke="#fff" stroke-width="0.3"/>
<rect x="638.20" y="569.81" width="4.30" height="4.74" fill="#e0dcf6" stroke="#fff" stroke-width="0.3"/>
<rect x="638.20" y="574.55" width="4.30" height="4.74" fill="#eaeaf8" stroke="#fff" stroke-width="0.3"/>
<rect x="638.20" y="579.29" width="4.30" height="4.74" fill="#eaeaf8" stroke="#fff" stroke-width="0.3"/>
<rect x="638.20" y="584.03" width="4.30" height="4.74" fill="#eaeaf8" stroke="#fff" stroke-width="0.3"/>
<rect x="638.20" y="588.77" width="4.30" height="4.74" fill="#eaeaf8" stroke="#fff" stroke-width="0.3"/>
<rect x="638.20" y="593.52" width="4.30" height="4.74" fill="#eaeaf8" stroke="#fff" stroke-width="0.3"/>
<rect x="638.20" y="598.26" width="4.30" height="4.74" fill="#eaeaf8" stroke="#fff" stroke-width="0.3"/>
<rect x="642.50" y="546.10" width="4.70" height="4.74" fill="#c8bef0" stroke="#fff" stroke-width="0.3"/>
<rect x="642.50" y="550.84" width="4.70" height="4.74" fill="#c0b4ec" stroke="#fff" stroke-width="0.3"/>
<rect x="642.50" y="555.58" width="4.70" height="4.74" fill="#d0c8f0" stroke="#fff" stroke-width="0.3"/>
<rect x="642.50" y="560.33" width="4.70" height="4.74" fill="#a898e0" stroke="#fff" stroke-width="0.3"/>
<rect x="642.50" y="565.07" width="4.70" height="4.74" fill="#c8bef0" stroke="#fff" stroke-width="0.3"/>
<rect x="642.50" y="569.81" width="4.70" height="4.74" fill="#c8bef0" stroke="#fff" stroke-width="0.3"/>
<rect x="642.50" y="574.55" width="4.70" height="4.74" fill="#e8e8f8" stroke="#fff" stroke-width="0.3"/>
<rect x="642.50" y="579.29" width="4.70" height="4.74" fill="#e8e8f8" stroke="#fff" stroke-width="0.3"/>
<rect x="642.50" y="584.03" width="4.70" height="4.74" fill="#e8e8f8" stroke="#fff" stroke-width="0.3"/>
<rect x="642.50" y="588.77" width="4.70" height="4.74" fill="#e8e8f8" stroke="#fff" stroke-width="0.3"/>
<rect x="642.50" y="593.52" width="4.70" height="4.74" fill="#e8e8f8" stroke="#fff" stroke-width="0.3"/>
<rect x="642.50" y="598.26" width="4.70" height="4.74" fill="#e8e8f8" stroke="#fff" stroke-width="0.3"/>
<rect x="647.20" y="546.10" width="4.30" height="4.74" fill="#c8bef0" stroke="#fff" stroke-width="0.3"/>
<rect x="647.20" y="550.84" width="4.30" height="4.74" fill="#d0c8f0" stroke="#fff" stroke-width="0.3"/>
<rect x="647.20" y="555.58" width="4.30" height="4.74" fill="#d8d2f4" stroke="#fff" stroke-width="0.3"/>
<rect x="647.20" y="560.33" width="4.30" height="4.74" fill="#d0c8f0" stroke="#fff" stroke-width="0.3"/>
<rect x="647.20" y="565.07" width="4.30" height="4.74" fill="#d0c8f0" stroke="#fff" stroke-width="0.3"/>
<rect x="647.20" y="569.81" width="4.30" height="4.74" fill="#d8d2f4" stroke="#fff" stroke-width="0.3"/>
<rect x="647.20" y="574.55" width="4.30" height="4.74" fill="#dcd8f4" stroke="#fff" stroke-width="0.3"/>
<rect x="647.20" y="579.29" width="4.30" height="4.74" fill="#eaeaf8" stroke="#fff" stroke-width="0.3"/>
<rect x="647.20" y="584.03" width="4.30" height="4.74" fill="#eaeaf8" stroke="#fff" stroke-width="0.3"/>
<rect x="647.20" y="588.77" width="4.30" height="4.74" fill="#eaeaf8" stroke="#fff" stroke-width="0.3"/>
<rect x="647.20" y="593.52" width="4.30" height="4.74" fill="#eaeaf8" stroke="#fff" stroke-width="0.3"/>
<rect x="647.20" y="598.26" width="4.30" height="4.74" fill="#eaeaf8" stroke="#fff" stroke-width="0.3"/>
<rect x="401.50" y="546.10" width="257.90" height="56.90" fill="none" stroke="#c4c4c4" stroke-width="0.8"/>
<line x1="402.50" y1="575.05" x2="659.40" y2="575.05" stroke="#222" stroke-width="1.0" stroke-dasharray="4,1.1"/>
<line x1="425.60" y1="603.00" x2="425.60" y2="604.60" stroke="#888" stroke-width="0.6"/>
<text x="425.60" y="612.12" font-size="7.0" text-anchor="middle" fill="#3a3a3a" stroke="#3a3a3a" stroke-width="0.14">280</text>
<line x1="473.60" y1="603.00" x2="473.60" y2="604.60" stroke="#888" stroke-width="0.6"/>
<text x="473.60" y="612.12" font-size="7.0" text-anchor="middle" fill="#3a3a3a" stroke="#3a3a3a" stroke-width="0.14">290</text>
<line x1="520.60" y1="603.00" x2="520.60" y2="604.60" stroke="#888" stroke-width="0.6"/>
<text x="520.60" y="612.12" font-size="7.0" text-anchor="middle" fill="#3a3a3a" stroke="#3a3a3a" stroke-width="0.14">300</text>
<line x1="568.50" y1="603.00" x2="568.50" y2="604.60" stroke="#888" stroke-width="0.6"/>
<text x="568.50" y="612.12" font-size="7.0" text-anchor="middle" fill="#3a3a3a" stroke="#3a3a3a" stroke-width="0.14">310</text>
<line x1="616.00" y1="603.00" x2="616.00" y2="604.60" stroke="#888" stroke-width="0.6"/>
<text x="616.00" y="612.12" font-size="7.0" text-anchor="middle" fill="#3a3a3a" stroke="#3a3a3a" stroke-width="0.14">320</text>
<text x="662.60" y="563.57" font-size="8.8" text-anchor="start" fill="#1a1a1a" stroke="#1a1a1a" stroke-width="0.14">no filt</text>
<text x="662.60" y="591.87" font-size="8.8" text-anchor="start" fill="#1a1a1a" stroke="#1a1a1a" stroke-width="0.14">filt</text>
<rect x="313.50" y="228.10" width="83.20" height="64.70" fill="none" stroke="#5bbcea" stroke-width="1.0" stroke-dasharray="3.2,1.8"/>
<line x1="396.70" y1="292.80" x2="409.60" y2="292.80" stroke="#5bbcea" stroke-width="1.0"/>
<rect x="409.60" y="280.60" width="4.50" height="28.10" fill="none" stroke="#5bbcea" stroke-width="1.0" stroke-dasharray="3.2,1.8"/>
<text x="383.90" y="237.20" font-size="8.9" text-anchor="end" fill="#1a1a1a" stroke="#1a1a1a" stroke-width="0.14">RN7SK-IVT</text>
<rect x="387.10" y="230.20" width="7.70" height="7.70" fill="#e8eaf8"/>
<text x="383.90" y="248.00" font-size="8.9" text-anchor="end" fill="#1a1a1a" stroke="#1a1a1a" stroke-width="0.14">ARPE-19 #1</text>
<rect x="387.10" y="241.00" width="7.70" height="7.70" fill="#e8eaf8"/>
<text x="383.90" y="258.60" font-size="8.9" text-anchor="end" fill="#1a1a1a" stroke="#1a1a1a" stroke-width="0.14">ARPE-19 #2</text>
<rect x="387.10" y="251.60" width="7.70" height="7.70" fill="#e8eaf8"/>
<text x="383.90" y="269.40" font-size="8.9" text-anchor="end" fill="#1a1a1a" stroke="#1a1a1a" stroke-width="0.14">ARPE-19 siLa #1</text>
<rect x="387.10" y="262.40" width="7.70" height="7.70" fill="#e8eaf8"/>
<text x="383.90" y="280.20" font-size="8.9" text-anchor="end" fill="#1a1a1a" stroke="#1a1a1a" stroke-width="0.14">NHDF #1</text>
<rect x="387.10" y="273.20" width="7.70" height="7.70" fill="#e8eaf8"/>
<text x="383.90" y="290.70" font-size="8.9" text-anchor="end" fill="#1a1a1a" stroke="#1a1a1a" stroke-width="0.14">CRO-AP5 #1</text>
<rect x="387.10" y="283.70" width="7.70" height="7.70" fill="#e8eaf8"/>
<defs><linearGradient id="cb" x1="0" y1="1" x2="0" y2="0"><stop offset="0" stop-color="#f4f4fc"/><stop offset="0.5" stop-color="#8f86d6"/><stop offset="1" stop-color="#1c0c9c"/></linearGradient></defs>
<rect x="367.20" y="321.70" width="7.50" height="37.20" fill="url(#cb)"/>
<text x="388.00" y="324.64" font-size="7.6" text-anchor="end" fill="#333" stroke="#333" stroke-width="0.14">100</text>
<text x="388.00" y="333.94" font-size="7.6" text-anchor="end" fill="#333" stroke="#333" stroke-width="0.14">75</text>
<line x1="367.20" y1="331.20" x2="368.80" y2="331.20" stroke="#fff" stroke-width="0.5"/>
<line x1="373.10" y1="331.20" x2="374.70" y2="331.20" stroke="#fff" stroke-width="0.5"/>
<text x="388.00" y="343.34" font-size="7.6" text-anchor="end" fill="#333" stroke="#333" stroke-width="0.14">50</text>
<line x1="367.20" y1="340.60" x2="368.80" y2="340.60" stroke="#fff" stroke-width="0.5"/>
<line x1="373.10" y1="340.60" x2="374.70" y2="340.60" stroke="#fff" stroke-width="0.5"/>
<text x="388.00" y="352.84" font-size="7.6" text-anchor="end" fill="#333" stroke="#333" stroke-width="0.14">25</text>
<line x1="367.20" y1="350.10" x2="368.80" y2="350.10" stroke="#fff" stroke-width="0.5"/>
<line x1="373.10" y1="350.10" x2="374.70" y2="350.10" stroke="#fff" stroke-width="0.5"/>
<text x="388.00" y="362.24" font-size="7.6" text-anchor="end" fill="#333" stroke="#333" stroke-width="0.14">0</text>
<text x="360.40" y="343.83" font-size="7.3" text-anchor="middle" fill="#333" transform="rotate(-90 360.40 341.20)" stroke="#333" stroke-width="0.14">ψ stoichiometry</text>
</svg></body></html>
